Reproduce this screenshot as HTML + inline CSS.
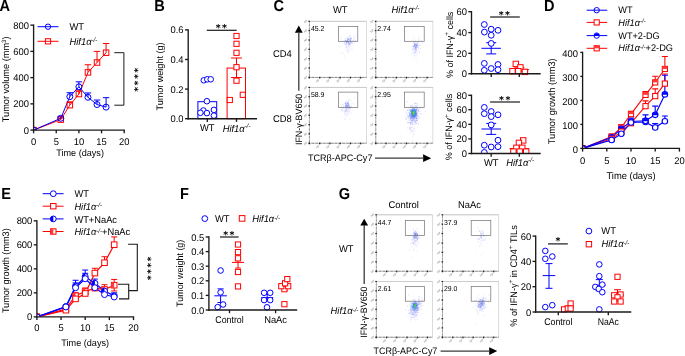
<!DOCTYPE html>
<html><head><meta charset="utf-8"><title>Figure</title>
<style>
html,body{margin:0;padding:0;background:#fff;}
svg{display:block;font-family:"Liberation Sans",sans-serif;will-change:transform;text-rendering:geometricPrecision;}
</style></head><body>
<svg width="685" height="356" viewBox="0 0 685 356">
<rect width="685" height="356" fill="#fff"/>
<text transform="translate(-0.5,10.7) scale(1,1.09)" font-size="14.6" font-weight="bold" fill="#000">A</text>
<text transform="translate(154.3,10.7) scale(1,1.09)" font-size="14.6" font-weight="bold" fill="#000">B</text>
<text transform="translate(273.6,10.7) scale(1,1.09)" font-size="14.6" font-weight="bold" fill="#000">C</text>
<text transform="translate(544.1,10.7) scale(1,1.09)" font-size="14.6" font-weight="bold" fill="#000">D</text>
<text transform="translate(1.3,198.6) scale(1,1.09)" font-size="14.6" font-weight="bold" fill="#000">E</text>
<text transform="translate(180.1,198.6) scale(1,1.09)" font-size="14.6" font-weight="bold" fill="#000">F</text>
<text transform="translate(338.7,198.6) scale(1,1.09)" font-size="14.6" font-weight="bold" fill="#000">G</text>
<text transform="translate(80.1,155.89) scale(1,1.04)" font-size="9.1" text-anchor="middle" fill="#000">Time (days)</text>
<text transform="translate(5.5,79.4) rotate(-90) translate(0,3.43) scale(1,1.04)" font-size="9.2" text-anchor="middle" fill="#000">Tumor volume (mm<tspan font-size="6" dy="-3.3">3</tspan><tspan dy="3.3">)</tspan></text>
<clipPath id="cp1"><rect x="33.6" y="0" width="126.4" height="130.1"/></clipPath><g clip-path="url(#cp1)">
<line x1="60.78" y1="119.6" x2="60.78" y2="118.03" stroke="#ff0000" stroke-width="1"/>
<line x1="57.53" y1="118.03" x2="64.03" y2="118.03" stroke="#ff0000" stroke-width="1"/>
<line x1="69.84" y1="105.17" x2="69.84" y2="101.89" stroke="#ff0000" stroke-width="1"/>
<line x1="66.59" y1="101.89" x2="73.09" y2="101.89" stroke="#ff0000" stroke-width="1"/>
<line x1="78.9" y1="94.02" x2="78.9" y2="90.08" stroke="#ff0000" stroke-width="1"/>
<line x1="75.65" y1="90.08" x2="82.15" y2="90.08" stroke="#ff0000" stroke-width="1"/>
<line x1="87.96" y1="72.37" x2="87.96" y2="64.76" stroke="#ff0000" stroke-width="1"/>
<line x1="84.71" y1="64.76" x2="91.21" y2="64.76" stroke="#ff0000" stroke-width="1"/>
<line x1="97.02" y1="62.53" x2="97.02" y2="51.38" stroke="#ff0000" stroke-width="1"/>
<line x1="93.77" y1="51.38" x2="100.27" y2="51.38" stroke="#ff0000" stroke-width="1"/>
<line x1="106.08" y1="52.69" x2="106.08" y2="43.51" stroke="#ff0000" stroke-width="1"/>
<line x1="102.83" y1="43.51" x2="109.33" y2="43.51" stroke="#ff0000" stroke-width="1"/>
<line x1="60.78" y1="118.29" x2="60.78" y2="116.32" stroke="#0000ff" stroke-width="1"/>
<line x1="57.53" y1="116.32" x2="64.03" y2="116.32" stroke="#0000ff" stroke-width="1"/>
<line x1="69.84" y1="96.64" x2="69.84" y2="92.71" stroke="#0000ff" stroke-width="1"/>
<line x1="66.59" y1="92.71" x2="73.09" y2="92.71" stroke="#0000ff" stroke-width="1"/>
<line x1="78.9" y1="86.8" x2="78.9" y2="81.82" stroke="#0000ff" stroke-width="1"/>
<line x1="75.65" y1="81.82" x2="82.15" y2="81.82" stroke="#0000ff" stroke-width="1"/>
<line x1="87.96" y1="97.3" x2="87.96" y2="92.97" stroke="#0000ff" stroke-width="1"/>
<line x1="84.71" y1="92.97" x2="91.21" y2="92.97" stroke="#0000ff" stroke-width="1"/>
<line x1="97.02" y1="104.52" x2="97.02" y2="100.06" stroke="#0000ff" stroke-width="1"/>
<line x1="93.77" y1="100.06" x2="100.27" y2="100.06" stroke="#0000ff" stroke-width="1"/>
<line x1="106.08" y1="107.14" x2="106.08" y2="97.69" stroke="#0000ff" stroke-width="1"/>
<line x1="102.83" y1="97.69" x2="109.33" y2="97.69" stroke="#0000ff" stroke-width="1"/>
<polyline points="33.6,130.1 60.78,119.6 69.84,105.17 78.9,94.02 87.96,72.37 97.02,62.53 106.08,52.69" fill="none" stroke="#ff0000" stroke-width="1"/>
<polyline points="33.6,130.1 60.78,118.29 69.84,96.64 78.9,86.8 87.96,97.3 97.02,104.52 106.08,107.14" fill="none" stroke="#0000ff" stroke-width="1"/>
<rect x="30.85" y="127.35" width="5.5" height="5.5" fill="none" stroke="#ff0000" stroke-width="1"/>
<rect x="58.03" y="116.85" width="5.5" height="5.5" fill="none" stroke="#ff0000" stroke-width="1"/>
<rect x="67.09" y="102.42" width="5.5" height="5.5" fill="none" stroke="#ff0000" stroke-width="1"/>
<rect x="76.15" y="91.27" width="5.5" height="5.5" fill="none" stroke="#ff0000" stroke-width="1"/>
<rect x="85.21" y="69.62" width="5.5" height="5.5" fill="none" stroke="#ff0000" stroke-width="1"/>
<rect x="94.27" y="59.78" width="5.5" height="5.5" fill="none" stroke="#ff0000" stroke-width="1"/>
<rect x="103.33" y="49.94" width="5.5" height="5.5" fill="none" stroke="#ff0000" stroke-width="1"/>
<circle cx="33.6" cy="130.1" r="3" fill="none" stroke="#0000ff" stroke-width="1"/>
<circle cx="60.78" cy="118.29" r="3" fill="none" stroke="#0000ff" stroke-width="1"/>
<circle cx="69.84" cy="96.64" r="3" fill="none" stroke="#0000ff" stroke-width="1"/>
<circle cx="78.9" cy="86.8" r="3" fill="none" stroke="#0000ff" stroke-width="1"/>
<circle cx="87.96" cy="97.3" r="3" fill="none" stroke="#0000ff" stroke-width="1"/>
<circle cx="97.02" cy="104.52" r="3" fill="none" stroke="#0000ff" stroke-width="1"/>
<circle cx="106.08" cy="107.14" r="3" fill="none" stroke="#0000ff" stroke-width="1"/>
</g>
<line x1="37.5" y1="26.7" x2="58.5" y2="26.7" stroke="#0000ff" stroke-width="1"/>
<circle cx="48" cy="26.7" r="2.7" fill="none" stroke="#0000ff" stroke-width="1"/>
<line x1="37.5" y1="41.3" x2="58.5" y2="41.3" stroke="#ff0000" stroke-width="1"/>
<rect x="45.4" y="38.7" width="5.2" height="5.2" fill="none" stroke="#ff0000" stroke-width="1"/>
<text transform="translate(69.5,29.8) scale(1,1.04)" font-size="9.4" fill="#000">WT</text>
<text transform="translate(69.5,44.8) scale(1,1.04)" font-size="9.4" fill="#000"><tspan font-style="italic">Hif1α</tspan><tspan font-style="italic" font-size="6.2" dy="-2.35">-/-</tspan></text>
<polyline points="114.3,52.7 123.9,52.7 123.9,105.2 114.3,105.2" fill="none" stroke="#1a1a1a" stroke-width="1"/>
<text transform="translate(137.43,79.1) rotate(-90) translate(0,3.37)" font-size="9.4" text-anchor="middle" fill="#000" letter-spacing="1.4" font-weight="bold" font-family="DejaVu Sans, sans-serif">****</text>
<line x1="33.6" y1="24.46" x2="33.6" y2="130.78" stroke="#1a1a1a" stroke-width="1.35"/>
<line x1="30.4" y1="130.1" x2="33.6" y2="130.1" stroke="#1a1a1a" stroke-width="1.35"/>
<text transform="translate(29,133.6) scale(1,1.04)" font-size="9.4" text-anchor="end" fill="#000">0</text>
<line x1="30.4" y1="103.86" x2="33.6" y2="103.86" stroke="#1a1a1a" stroke-width="1.35"/>
<text transform="translate(29,107.36) scale(1,1.04)" font-size="9.4" text-anchor="end" fill="#000">200</text>
<line x1="30.4" y1="77.62" x2="33.6" y2="77.62" stroke="#1a1a1a" stroke-width="1.35"/>
<text transform="translate(29,81.12) scale(1,1.04)" font-size="9.4" text-anchor="end" fill="#000">400</text>
<line x1="30.4" y1="51.38" x2="33.6" y2="51.38" stroke="#1a1a1a" stroke-width="1.35"/>
<text transform="translate(29,54.88) scale(1,1.04)" font-size="9.4" text-anchor="end" fill="#000">600</text>
<line x1="30.4" y1="25.14" x2="33.6" y2="25.14" stroke="#1a1a1a" stroke-width="1.35"/>
<text transform="translate(29,28.64) scale(1,1.04)" font-size="9.4" text-anchor="end" fill="#000">800</text>
<line x1="32.93" y1="130.1" x2="124.88" y2="130.1" stroke="#1a1a1a" stroke-width="1.35"/>
<line x1="33.6" y1="130.1" x2="33.6" y2="133.3" stroke="#1a1a1a" stroke-width="1.35"/>
<text transform="translate(33.6,144.7) scale(1,1.04)" font-size="9.4" text-anchor="middle" fill="#000">0</text>
<line x1="56.25" y1="130.1" x2="56.25" y2="133.3" stroke="#1a1a1a" stroke-width="1.35"/>
<text transform="translate(56.25,144.7) scale(1,1.04)" font-size="9.4" text-anchor="middle" fill="#000">5</text>
<line x1="78.9" y1="130.1" x2="78.9" y2="133.3" stroke="#1a1a1a" stroke-width="1.35"/>
<text transform="translate(78.9,144.7) scale(1,1.04)" font-size="9.4" text-anchor="middle" fill="#000">10</text>
<line x1="101.55" y1="130.1" x2="101.55" y2="133.3" stroke="#1a1a1a" stroke-width="1.35"/>
<text transform="translate(101.55,144.7) scale(1,1.04)" font-size="9.4" text-anchor="middle" fill="#000">15</text>
<line x1="124.2" y1="130.1" x2="124.2" y2="133.3" stroke="#1a1a1a" stroke-width="1.35"/>
<text transform="translate(124.2,144.7) scale(1,1.04)" font-size="9.4" text-anchor="middle" fill="#000">20</text>
<text transform="translate(207.3,131.4) scale(1,1.04)" font-size="9.4" text-anchor="middle" fill="#000">WT</text>
<text transform="translate(236.6,131.7) scale(1,1.04)" font-size="9.4" text-anchor="middle" fill="#000"><tspan font-style="italic">Hif1α</tspan><tspan font-style="italic" font-size="6.2" dy="-3.57">-/-</tspan></text>
<text transform="translate(160.1,76.5) rotate(-90) translate(0,3.37) scale(1,1.04)" font-size="9.05" text-anchor="middle" fill="#000">Tumor weight (g)</text>
<rect x="197.9" y="101.68" width="18.8" height="17.02" fill="none" stroke="#0000ff" stroke-width="1"/>
<rect x="227.1" y="68.08" width="18.4" height="50.62" fill="none" stroke="#ff0000" stroke-width="1"/>
<line x1="236.5" y1="77.5" x2="236.5" y2="58" stroke="#ff0000" stroke-width="1"/>
<line x1="231.1" y1="58" x2="241.9" y2="58" stroke="#ff0000" stroke-width="1"/>
<line x1="231.1" y1="77.5" x2="241.9" y2="77.5" stroke="#ff0000" stroke-width="1"/>
<circle cx="203.8" cy="80.3" r="2.8" fill="#fff" stroke="#0000ff" stroke-width="1"/>
<circle cx="207.3" cy="79.3" r="2.8" fill="#fff" stroke="#0000ff" stroke-width="1"/>
<circle cx="210.7" cy="79.3" r="2.8" fill="#fff" stroke="#0000ff" stroke-width="1"/>
<circle cx="206.9" cy="101.2" r="2.8" fill="#fff" stroke="#0000ff" stroke-width="1"/>
<circle cx="203.4" cy="110.5" r="2.8" fill="#fff" stroke="#0000ff" stroke-width="1"/>
<circle cx="200.4" cy="112.8" r="2.8" fill="#fff" stroke="#0000ff" stroke-width="1"/>
<circle cx="206.9" cy="113.1" r="2.8" fill="#fff" stroke="#0000ff" stroke-width="1"/>
<circle cx="213.9" cy="109.9" r="2.8" fill="#fff" stroke="#0000ff" stroke-width="1"/>
<circle cx="213.9" cy="115.6" r="2.8" fill="#fff" stroke="#0000ff" stroke-width="1"/>
<rect x="233.9" y="33.4" width="5.2" height="5.2" fill="#fff" stroke="#ff0000" stroke-width="1"/>
<rect x="233.9" y="41.2" width="5.2" height="5.2" fill="#fff" stroke="#ff0000" stroke-width="1"/>
<rect x="233.9" y="50.2" width="5.2" height="5.2" fill="#fff" stroke="#ff0000" stroke-width="1"/>
<rect x="233.9" y="64.6" width="5.2" height="5.2" fill="#fff" stroke="#ff0000" stroke-width="1"/>
<rect x="233.9" y="78.1" width="5.2" height="5.2" fill="#fff" stroke="#ff0000" stroke-width="1"/>
<rect x="240.2" y="92.2" width="5.2" height="5.2" fill="#fff" stroke="#ff0000" stroke-width="1"/>
<rect x="227.2" y="97.4" width="5.2" height="5.2" fill="#fff" stroke="#ff0000" stroke-width="1"/>
<line x1="206.8" y1="30.3" x2="236.7" y2="30.3" stroke="#1a1a1a" stroke-width="1.2"/>
<text transform="translate(222,30.8)" font-size="9.4" text-anchor="middle" fill="#000" letter-spacing="1.4" font-weight="bold" font-family="DejaVu Sans, sans-serif">**</text>
<line x1="188.2" y1="29.23" x2="188.2" y2="119.38" stroke="#1a1a1a" stroke-width="1.35"/>
<line x1="185" y1="118.7" x2="188.2" y2="118.7" stroke="#1a1a1a" stroke-width="1.35"/>
<text transform="translate(183.6,122.2) scale(1,1.04)" font-size="9.4" text-anchor="end" fill="#000">0.0</text>
<line x1="185" y1="89.1" x2="188.2" y2="89.1" stroke="#1a1a1a" stroke-width="1.35"/>
<text transform="translate(183.6,92.6) scale(1,1.04)" font-size="9.4" text-anchor="end" fill="#000">0.2</text>
<line x1="185" y1="59.5" x2="188.2" y2="59.5" stroke="#1a1a1a" stroke-width="1.35"/>
<text transform="translate(183.6,63) scale(1,1.04)" font-size="9.4" text-anchor="end" fill="#000">0.4</text>
<line x1="185" y1="29.9" x2="188.2" y2="29.9" stroke="#1a1a1a" stroke-width="1.35"/>
<text transform="translate(183.6,33.4) scale(1,1.04)" font-size="9.4" text-anchor="end" fill="#000">0.6</text>
<line x1="187.52" y1="118.7" x2="256.98" y2="118.7" stroke="#1a1a1a" stroke-width="1.35"/>
<line x1="207.3" y1="118.7" x2="207.3" y2="121.9" stroke="#1a1a1a" stroke-width="1.35"/>
<line x1="236.5" y1="118.7" x2="236.5" y2="121.9" stroke="#1a1a1a" stroke-width="1.35"/>
<rect x="309.4" y="21.3" width="57.1" height="56.1" fill="#fff" stroke="#cdcdcd" stroke-width="0.7"/>
<line x1="309.4" y1="21.3" x2="366.5" y2="21.3" stroke="#c4c4c4" stroke-width="0.7"/>
<line x1="309.4" y1="21.3" x2="309.4" y2="77.4" stroke="#4a4a4a" stroke-width="0.85" stroke-dasharray="0.55 0.8"/>
<line x1="309.4" y1="77.4" x2="366.5" y2="77.4" stroke="#3c3c3c" stroke-width="1" stroke-dasharray="0.55 0.8"/>
<rect x="308.4" y="20.7" width="1.6" height="1.2" fill="#222"/>
<text transform="translate(304.4,23.3) rotate(-32)" font-size="2.5" fill="#5a5a5a">10<tspan font-size="1.8" dy="-0.9">6</tspan></text>
<rect x="308.4" y="30.05" width="1.6" height="1.2" fill="#222"/>
<text transform="translate(304.4,32.65) rotate(-32)" font-size="2.5" fill="#5a5a5a">10<tspan font-size="1.8" dy="-0.9">5</tspan></text>
<rect x="308.4" y="39.4" width="1.6" height="1.2" fill="#222"/>
<text transform="translate(304.4,42) rotate(-32)" font-size="2.5" fill="#5a5a5a">10<tspan font-size="1.8" dy="-0.9">4</tspan></text>
<rect x="308.4" y="48.75" width="1.6" height="1.2" fill="#222"/>
<text transform="translate(304.4,51.35) rotate(-32)" font-size="2.5" fill="#5a5a5a">10<tspan font-size="1.8" dy="-0.9">3</tspan></text>
<rect x="308.4" y="58.1" width="1.6" height="1.2" fill="#222"/>
<text transform="translate(304.4,60.7) rotate(-32)" font-size="2.5" fill="#5a5a5a">10<tspan font-size="1.8" dy="-0.9">2</tspan></text>
<rect x="308.4" y="67.45" width="1.6" height="1.2" fill="#222"/>
<text transform="translate(304.4,70.05) rotate(-32)" font-size="2.5" fill="#5a5a5a">10<tspan font-size="1.8" dy="-0.9">1</tspan></text>
<rect x="308.4" y="76.8" width="1.6" height="1.2" fill="#222"/>
<text transform="translate(304.4,79.4) rotate(-32)" font-size="2.5" fill="#5a5a5a">10<tspan font-size="1.8" dy="-0.9">0</tspan></text>
<rect x="308.8" y="76.8" width="1.2" height="1.7" fill="#222"/>
<rect x="319.05" y="76.8" width="1.2" height="1.7" fill="#222"/>
<text transform="translate(316.45,82.6) rotate(-32)" font-size="2.5" fill="#5a5a5a">10<tspan font-size="1.8" dy="-0.9">1</tspan></text>
<rect x="329.3" y="76.8" width="1.2" height="1.7" fill="#222"/>
<text transform="translate(326.7,82.6) rotate(-32)" font-size="2.5" fill="#5a5a5a">10<tspan font-size="1.8" dy="-0.9">2</tspan></text>
<rect x="339.55" y="76.8" width="1.2" height="1.7" fill="#222"/>
<text transform="translate(336.95,82.6) rotate(-32)" font-size="2.5" fill="#5a5a5a">10<tspan font-size="1.8" dy="-0.9">3</tspan></text>
<rect x="349.8" y="76.8" width="1.2" height="1.7" fill="#222"/>
<text transform="translate(347.2,82.6) rotate(-32)" font-size="2.5" fill="#5a5a5a">10<tspan font-size="1.8" dy="-0.9">4</tspan></text>
<rect x="360.05" y="76.8" width="1.2" height="1.7" fill="#222"/>
<text transform="translate(357.45,82.6) rotate(-32)" font-size="2.5" fill="#5a5a5a">10<tspan font-size="1.8" dy="-0.9">5</tspan></text>
<path d="M350.38 46.86h.7M346.65 47.38h.7M347.67 43.3h.7M342.04 52.13h.7M345.82 44.83h.7M348.96 45.54h.7M348.09 45.52h.7M349 50.72h.7M347.75 43.34h.7M349.65 48.57h.7M347.85 45.26h.7M348.35 51.53h.7M350.52 41.67h.7M349.38 43.61h.7M347.24 49.87h.7M347.2 48.08h.7M349.6 44.56h.7M347.48 45.15h.7M348.25 42.51h.7M349.55 44.99h.7M339.76 53.04h.7M349.31 44.27h.7M348.79 44.11h.7M352.43 43.5h.7M349.81 42.47h.7M351.15 44.05h.7M351.62 49.46h.7M351.35 42.07h.7M348.24 44.47h.7M346.68 52.76h.7M347.42 51.47h.7M349.3 46.45h.7M348.92 41.72h.7M343.88 43.52h.7M341.81 53.69h.7M346.4 47.59h.7M348.41 48.41h.7M349.87 43.41h.7M348.63 41.75h.7M351.69 49.85h.7M345.04 44.07h.7M345.51 49.78h.7M345.17 46.05h.7M344.31 55.06h.7M349.62 46.83h.7M348.56 44.44h.7M349.89 43.19h.7M345.69 41.89h.7M348.37 41.58h.7M348.66 50.84h.7M348.69 42.94h.7M350.07 41.83h.7M344.27 57.84h.7M347.98 41.76h.7M347.82 42.2h.7M348.69 46.91h.7M347.59 46.84h.7M345.46 48.16h.7" stroke="#a9aef7" stroke-width="0.7" stroke-opacity="0.5" fill="none"/>
<path d="M349.34 41.47h.7M349.06 39.14h.7M339.43 46.82h.7M344.45 44.1h.7M344.98 41.69h.7M340.89 39.63h.7M344.75 38.87h.7M354.72 40.51h.7M353.49 36.3h.7M355.49 34.71h.7M340.29 37.15h.7M346.52 41.81h.7M349.18 41.32h.7M346.46 40.96h.7M352.26 41.55h.7M347.38 41.5h.7M348.17 43.37h.7M348.36 41.25h.7M351.36 38.65h.7M351.8 41.26h.7M345.53 44.71h.7M348.57 39.12h.7M347.68 43.73h.7M343.71 40.65h.7M353.45 38.77h.7M354.75 38.37h.7M354.84 40.36h.7M351.17 41.17h.7M346.7 40.7h.7M354.08 37.24h.7M347.7 39.3h.7M349.09 43.82h.7M349.65 40.11h.7M347.19 41.8h.7M349.75 44.11h.7M347.19 50.25h.7M343.72 41.48h.7M354.35 42.68h.7" stroke="#9098f5" stroke-width="0.7" stroke-opacity="0.5" fill="none"/>
<path d="M348.77 43.29h.7M346.41 41.59h.7M347.72 39.32h.7M346.05 46.46h.7M348.55 38.1h.7M346.49 43.75h.7M350.14 40h.7M350.63 42h.7M349.7 41.9h.7M347.39 42.92h.7M345.38 40.52h.7M351.7 42.28h.7M350.74 38.16h.7M347.27 40.03h.7M348.17 41.18h.7M346.96 40.59h.7M350.23 38.37h.7M344.82 40.06h.7M350.45 37.79h.7M348.09 39.31h.7M350.09 40.19h.7M352.81 40.41h.7M349.42 38.8h.7M348.35 39.97h.7M351.06 38.85h.7M346.79 40.98h.7M345.9 44.05h.7M346.3 42.08h.7M347.97 39.55h.7M349.81 43.89h.7M347.21 39.19h.7M346.86 38.75h.7M344.24 42.5h.7M348.17 42.34h.7M346.49 42.63h.7M345.64 40.77h.7M345.55 40.67h.7M349.91 39.62h.7M345.64 41.56h.7M349.46 40.23h.7M349.39 36.47h.7M350.38 41.12h.7M349.87 35.41h.7M347.74 41.89h.7M351.02 42.86h.7M346.87 40.37h.7M345.84 41.81h.7M346.03 42.34h.7M349.77 40.59h.7M347.61 37.95h.7M350.24 38.55h.7M346.66 38.04h.7M346.55 41.98h.7M349.5 43.49h.7" stroke="#5a68f2" stroke-width="0.7" stroke-opacity="0.5" fill="none"/>
<rect x="338.4" y="26.4" width="19.4" height="14.9" fill="none" stroke="#707070" stroke-width="0.7"/>
<text transform="translate(310.9,31.17) scale(1,1.04)" font-size="6.9" fill="#000">45.2</text>
<rect x="375.8" y="21.3" width="57.1" height="56.1" fill="#fff" stroke="#cdcdcd" stroke-width="0.7"/>
<line x1="375.8" y1="21.3" x2="432.9" y2="21.3" stroke="#c4c4c4" stroke-width="0.7"/>
<line x1="375.8" y1="21.3" x2="375.8" y2="77.4" stroke="#4a4a4a" stroke-width="0.85" stroke-dasharray="0.55 0.8"/>
<line x1="375.8" y1="77.4" x2="432.9" y2="77.4" stroke="#3c3c3c" stroke-width="1" stroke-dasharray="0.55 0.8"/>
<rect x="374.8" y="20.7" width="1.6" height="1.2" fill="#222"/>
<text transform="translate(370.8,23.3) rotate(-32)" font-size="2.5" fill="#5a5a5a">10<tspan font-size="1.8" dy="-0.9">6</tspan></text>
<rect x="374.8" y="30.05" width="1.6" height="1.2" fill="#222"/>
<text transform="translate(370.8,32.65) rotate(-32)" font-size="2.5" fill="#5a5a5a">10<tspan font-size="1.8" dy="-0.9">5</tspan></text>
<rect x="374.8" y="39.4" width="1.6" height="1.2" fill="#222"/>
<text transform="translate(370.8,42) rotate(-32)" font-size="2.5" fill="#5a5a5a">10<tspan font-size="1.8" dy="-0.9">4</tspan></text>
<rect x="374.8" y="48.75" width="1.6" height="1.2" fill="#222"/>
<text transform="translate(370.8,51.35) rotate(-32)" font-size="2.5" fill="#5a5a5a">10<tspan font-size="1.8" dy="-0.9">3</tspan></text>
<rect x="374.8" y="58.1" width="1.6" height="1.2" fill="#222"/>
<text transform="translate(370.8,60.7) rotate(-32)" font-size="2.5" fill="#5a5a5a">10<tspan font-size="1.8" dy="-0.9">2</tspan></text>
<rect x="374.8" y="67.45" width="1.6" height="1.2" fill="#222"/>
<text transform="translate(370.8,70.05) rotate(-32)" font-size="2.5" fill="#5a5a5a">10<tspan font-size="1.8" dy="-0.9">1</tspan></text>
<rect x="374.8" y="76.8" width="1.6" height="1.2" fill="#222"/>
<text transform="translate(370.8,79.4) rotate(-32)" font-size="2.5" fill="#5a5a5a">10<tspan font-size="1.8" dy="-0.9">0</tspan></text>
<rect x="375.2" y="76.8" width="1.2" height="1.7" fill="#222"/>
<rect x="385.45" y="76.8" width="1.2" height="1.7" fill="#222"/>
<text transform="translate(382.85,82.6) rotate(-32)" font-size="2.5" fill="#5a5a5a">10<tspan font-size="1.8" dy="-0.9">1</tspan></text>
<rect x="395.7" y="76.8" width="1.2" height="1.7" fill="#222"/>
<text transform="translate(393.1,82.6) rotate(-32)" font-size="2.5" fill="#5a5a5a">10<tspan font-size="1.8" dy="-0.9">2</tspan></text>
<rect x="405.95" y="76.8" width="1.2" height="1.7" fill="#222"/>
<text transform="translate(403.35,82.6) rotate(-32)" font-size="2.5" fill="#5a5a5a">10<tspan font-size="1.8" dy="-0.9">3</tspan></text>
<rect x="416.2" y="76.8" width="1.2" height="1.7" fill="#222"/>
<text transform="translate(413.6,82.6) rotate(-32)" font-size="2.5" fill="#5a5a5a">10<tspan font-size="1.8" dy="-0.9">4</tspan></text>
<rect x="426.45" y="76.8" width="1.2" height="1.7" fill="#222"/>
<text transform="translate(423.85,82.6) rotate(-32)" font-size="2.5" fill="#5a5a5a">10<tspan font-size="1.8" dy="-0.9">5</tspan></text>
<path d="M413.96 43.07h.7M416.19 47.45h.7M412.94 43.28h.7M415.11 44.09h.7M413.52 45.45h.7M417.29 46.87h.7M415.56 48.78h.7M413.88 45.58h.7M414.95 43.96h.7M415.57 45.35h.7M415.45 48.16h.7M415.17 44.06h.7M414.97 45.54h.7M415.79 44.61h.7M415.11 41.14h.7M414.27 44.45h.7M415.11 47.13h.7M417.57 42.97h.7M412.88 46.56h.7M416.23 47.19h.7M414.8 48.53h.7M414.28 45.53h.7M416.88 45.45h.7M413.9 46.62h.7M415.35 47.12h.7M417.41 42.06h.7M413.36 45.96h.7M418.2 41.11h.7M414.17 42.67h.7M415.1 50.15h.7M414.23 45.74h.7M414.23 46.27h.7M416.3 44.82h.7M415.7 49.02h.7M414.33 45.46h.7M413.86 49.07h.7M416.11 45.13h.7M418.64 45.43h.7M417.31 46.11h.7M415.43 47.38h.7M416.21 43.51h.7M415.56 47.35h.7M416.71 45.9h.7M415.41 44.9h.7M417.24 44.02h.7M416.31 45.73h.7M415.57 41.64h.7M414.44 44.34h.7M416.44 45.38h.7M414.25 46h.7M416.82 42.98h.7M415.97 45.45h.7M416.41 45.94h.7M414.18 46.01h.7M415.98 45.17h.7M415.6 47.15h.7" stroke="#5a68f2" stroke-width="0.7" stroke-opacity="0.5" fill="none"/>
<path d="M418.46 39.84h.7M412.91 41.58h.7M420.11 45.64h.7M414.12 39.82h.7M414.76 44.36h.7M412.24 46.4h.7M419.35 36.85h.7M414.79 47.98h.7M415.03 46.63h.7M415.87 48.77h.7M421.33 41.02h.7M415.27 44.36h.7M414.97 46.62h.7M413.27 47.81h.7M413.58 37.61h.7M414.61 45.17h.7M414.62 47.3h.7M413.63 47.17h.7M417.56 45.7h.7M419.22 44.16h.7M415.83 55.08h.7M420.33 40.99h.7M413.32 47.83h.7M416.7 44.98h.7M414.28 51.26h.7M422.04 43.08h.7M414.82 49.36h.7M416.97 44.49h.7M410.75 54.56h.7M412.81 41.76h.7M411.7 49.77h.7M415.08 52.07h.7M418.24 39.17h.7M417.84 44.01h.7M414.13 43.75h.7M416.22 47.41h.7M414.69 44.28h.7" stroke="#9098f5" stroke-width="0.7" stroke-opacity="0.5" fill="none"/>
<path d="M416.12 50.24h.7M412.54 50.38h.7M415.38 50.66h.7M418.44 46.53h.7M414.97 47.18h.7M418.01 47.38h.7M414 49.55h.7M412.64 61.52h.7M412.69 49.46h.7M414.5 53.1h.7M416.18 49.91h.7M415.08 46.48h.7M416.11 50.61h.7M413.5 48.88h.7M417.94 49.3h.7M413.81 52.13h.7M416.09 48.53h.7M415.9 47.24h.7M415.53 50.16h.7M412.04 58.09h.7M419.98 49.09h.7M414.09 55.07h.7M415.82 51.76h.7M414.68 55.89h.7M416.73 57.36h.7M415.6 49.08h.7M412.13 52.61h.7M415.41 53.16h.7M413.32 55.73h.7M414.65 53.54h.7M416.56 49.71h.7M418.27 48.16h.7M413.68 53.25h.7M417.1 47.36h.7M415.18 48.36h.7M418.78 52.05h.7M414.63 51.34h.7M414.81 52.22h.7M415.36 59.24h.7M410.94 46.51h.7M419.87 48.47h.7M415.37 46.37h.7M417 53.32h.7M417.93 49.67h.7M415.23 47.78h.7M415.81 52.31h.7M413.48 49.09h.7M416.68 46.36h.7M412.74 52.4h.7M417.11 61.77h.7M419.4 52.49h.7M412.64 53.63h.7M414.67 51.82h.7M412.55 48.49h.7M415.78 51.31h.7M413.03 48.44h.7M419.13 51.75h.7" stroke="#a9aef7" stroke-width="0.7" stroke-opacity="0.5" fill="none"/>
<rect x="404.4" y="26.4" width="19.8" height="14.9" fill="none" stroke="#707070" stroke-width="0.7"/>
<text transform="translate(377.3,31.17) scale(1,1.04)" font-size="6.9" fill="#000">2.74</text>
<rect x="309.4" y="87.4" width="57.1" height="55.8" fill="#fff" stroke="#cdcdcd" stroke-width="0.7"/>
<line x1="309.4" y1="87.4" x2="366.5" y2="87.4" stroke="#c4c4c4" stroke-width="0.7"/>
<line x1="309.4" y1="87.4" x2="309.4" y2="143.2" stroke="#4a4a4a" stroke-width="0.85" stroke-dasharray="0.55 0.8"/>
<line x1="309.4" y1="143.2" x2="366.5" y2="143.2" stroke="#3c3c3c" stroke-width="1" stroke-dasharray="0.55 0.8"/>
<rect x="308.4" y="86.8" width="1.6" height="1.2" fill="#222"/>
<text transform="translate(304.4,89.4) rotate(-32)" font-size="2.5" fill="#5a5a5a">10<tspan font-size="1.8" dy="-0.9">6</tspan></text>
<rect x="308.4" y="96.1" width="1.6" height="1.2" fill="#222"/>
<text transform="translate(304.4,98.7) rotate(-32)" font-size="2.5" fill="#5a5a5a">10<tspan font-size="1.8" dy="-0.9">5</tspan></text>
<rect x="308.4" y="105.4" width="1.6" height="1.2" fill="#222"/>
<text transform="translate(304.4,108) rotate(-32)" font-size="2.5" fill="#5a5a5a">10<tspan font-size="1.8" dy="-0.9">4</tspan></text>
<rect x="308.4" y="114.7" width="1.6" height="1.2" fill="#222"/>
<text transform="translate(304.4,117.3) rotate(-32)" font-size="2.5" fill="#5a5a5a">10<tspan font-size="1.8" dy="-0.9">3</tspan></text>
<rect x="308.4" y="124" width="1.6" height="1.2" fill="#222"/>
<text transform="translate(304.4,126.6) rotate(-32)" font-size="2.5" fill="#5a5a5a">10<tspan font-size="1.8" dy="-0.9">2</tspan></text>
<rect x="308.4" y="133.3" width="1.6" height="1.2" fill="#222"/>
<text transform="translate(304.4,135.9) rotate(-32)" font-size="2.5" fill="#5a5a5a">10<tspan font-size="1.8" dy="-0.9">1</tspan></text>
<rect x="308.4" y="142.6" width="1.6" height="1.2" fill="#222"/>
<text transform="translate(304.4,145.2) rotate(-32)" font-size="2.5" fill="#5a5a5a">10<tspan font-size="1.8" dy="-0.9">0</tspan></text>
<rect x="308.8" y="142.6" width="1.2" height="1.7" fill="#222"/>
<rect x="319.05" y="142.6" width="1.2" height="1.7" fill="#222"/>
<text transform="translate(316.45,148.4) rotate(-32)" font-size="2.5" fill="#5a5a5a">10<tspan font-size="1.8" dy="-0.9">1</tspan></text>
<rect x="329.3" y="142.6" width="1.2" height="1.7" fill="#222"/>
<text transform="translate(326.7,148.4) rotate(-32)" font-size="2.5" fill="#5a5a5a">10<tspan font-size="1.8" dy="-0.9">2</tspan></text>
<rect x="339.55" y="142.6" width="1.2" height="1.7" fill="#222"/>
<text transform="translate(336.95,148.4) rotate(-32)" font-size="2.5" fill="#5a5a5a">10<tspan font-size="1.8" dy="-0.9">3</tspan></text>
<rect x="349.8" y="142.6" width="1.2" height="1.7" fill="#222"/>
<text transform="translate(347.2,148.4) rotate(-32)" font-size="2.5" fill="#5a5a5a">10<tspan font-size="1.8" dy="-0.9">4</tspan></text>
<rect x="360.05" y="142.6" width="1.2" height="1.7" fill="#222"/>
<text transform="translate(357.45,148.4) rotate(-32)" font-size="2.5" fill="#5a5a5a">10<tspan font-size="1.8" dy="-0.9">5</tspan></text>
<path d="M345.18 111.47h.7M345.3 118.92h.7M344.67 114.33h.7M344.39 119.53h.7M345.6 116.91h.7M345.03 111.62h.7M344.98 107.43h.7M348.65 107.68h.7M341.75 108.45h.7M344.12 115.48h.7M345.5 108.04h.7M347.21 113.19h.7M342.7 107.55h.7M341.3 109.7h.7M348.9 112.25h.7M345.1 110.2h.7M350.14 113.68h.7M345.5 114.63h.7M340.48 117.14h.7M346.49 109.72h.7M344.34 113.17h.7M344.3 111.17h.7M345.5 110.49h.7M347.58 113.29h.7M345.85 114.79h.7M346.07 107.94h.7M346.25 106.68h.7M344.33 111.85h.7M347.21 107.08h.7M342.96 111.85h.7M347.2 109.82h.7M349.17 111.43h.7M345.13 112.34h.7M341.26 107.05h.7M351.3 107.37h.7M345.8 108.18h.7M345.17 111.3h.7M346.53 108.17h.7M346.85 107.68h.7M347.8 114.44h.7M348.4 109.07h.7M348.38 106.72h.7M346.16 110.39h.7M346.04 111.84h.7M349.71 108.48h.7M343.06 108.62h.7M346.17 107.51h.7M351.21 107.55h.7M346.45 113.4h.7M347.56 108.07h.7M346.93 115.72h.7M342.17 109.74h.7M347.7 108.94h.7M346.03 109.9h.7M351.46 112.35h.7M349.33 118.88h.7M345.6 108.29h.7M346.85 107.68h.7M344.69 111.18h.7M341.9 108.58h.7M345.68 108.33h.7" stroke="#a9aef7" stroke-width="0.7" stroke-opacity="0.5" fill="none"/>
<path d="M354.38 97.26h.7M347.66 110.93h.7M348.38 102.7h.7M345.02 105.75h.7M350.53 100.61h.7M345.42 106.95h.7M342.87 104.34h.7M345.3 102.73h.7M350.74 106.48h.7M346.49 111.48h.7M347.8 106.9h.7M349.18 107.78h.7M350.68 107.01h.7M349.89 107.13h.7M348.31 105.25h.7M353.37 103.79h.7M346.25 106.64h.7M342.19 111.07h.7M341.66 102.45h.7M347.7 103.28h.7M345.66 103.31h.7M343.22 107.46h.7M348.68 107.76h.7M343.68 109.71h.7M351.46 103.7h.7M344.7 107.18h.7M348.33 105.12h.7M347.65 103.88h.7M346.97 102.12h.7M348.81 105.29h.7M345.7 101.15h.7M349.67 100.13h.7M349.66 106.47h.7M347.47 102.73h.7M341.31 106.12h.7M349.62 108.85h.7M341.2 110.14h.7M341.6 110.6h.7M348.73 108.46h.7M348.47 100.8h.7M344.78 103.03h.7M347.1 102.29h.7M348.28 100.6h.7M346.28 109.33h.7M344.76 103.42h.7M347.54 105.65h.7M348.89 110.77h.7M342.25 104.44h.7" stroke="#9098f5" stroke-width="0.7" stroke-opacity="0.5" fill="none"/>
<path d="M345.74 106.08h.7M348.42 107.22h.7M346.86 106.75h.7M348.56 105.46h.7M344.82 103.34h.7M345.69 106.11h.7M349.31 105.72h.7M347.66 110.9h.7M347.66 107.58h.7M346.85 107.25h.7M347.56 105.09h.7M347.99 107.36h.7M345.46 104.95h.7M345.72 106.22h.7M349.4 106.86h.7M347.35 106.82h.7M346.81 105.82h.7M347.25 103.89h.7M347.58 102.82h.7M348.42 103.3h.7M345.48 105.58h.7M347.92 105.94h.7M344.75 109.3h.7M343.61 106.5h.7M347.97 104.19h.7M345.54 105.1h.7M346.89 106.15h.7M345.32 103.59h.7M348.53 106.83h.7M349.46 107.36h.7M347.45 105.49h.7M347.86 103.28h.7M345.95 104.64h.7M345.6 107.05h.7M343.59 105.71h.7M345.65 105.48h.7M348.96 107.72h.7M346.85 105.78h.7M345.89 110.4h.7M345.81 104.5h.7M347.08 103.03h.7M345.64 103.11h.7M346.63 107.05h.7M349.64 108.74h.7M346.77 103.76h.7M348.25 104.69h.7M346.16 102.23h.7M345.79 104.16h.7M347.68 105.28h.7M347.2 103.92h.7M345.98 105.69h.7" stroke="#5a68f2" stroke-width="0.7" stroke-opacity="0.5" fill="none"/>
<rect x="338.4" y="92.1" width="19.4" height="15.3" fill="none" stroke="#707070" stroke-width="0.7"/>
<text transform="translate(310.9,97.27) scale(1,1.04)" font-size="6.9" fill="#000">58.9</text>
<rect x="375.8" y="87.4" width="57.1" height="55.8" fill="#fff" stroke="#cdcdcd" stroke-width="0.7"/>
<line x1="375.8" y1="87.4" x2="432.9" y2="87.4" stroke="#c4c4c4" stroke-width="0.7"/>
<line x1="375.8" y1="87.4" x2="375.8" y2="143.2" stroke="#4a4a4a" stroke-width="0.85" stroke-dasharray="0.55 0.8"/>
<line x1="375.8" y1="143.2" x2="432.9" y2="143.2" stroke="#3c3c3c" stroke-width="1" stroke-dasharray="0.55 0.8"/>
<rect x="374.8" y="86.8" width="1.6" height="1.2" fill="#222"/>
<text transform="translate(370.8,89.4) rotate(-32)" font-size="2.5" fill="#5a5a5a">10<tspan font-size="1.8" dy="-0.9">6</tspan></text>
<rect x="374.8" y="96.1" width="1.6" height="1.2" fill="#222"/>
<text transform="translate(370.8,98.7) rotate(-32)" font-size="2.5" fill="#5a5a5a">10<tspan font-size="1.8" dy="-0.9">5</tspan></text>
<rect x="374.8" y="105.4" width="1.6" height="1.2" fill="#222"/>
<text transform="translate(370.8,108) rotate(-32)" font-size="2.5" fill="#5a5a5a">10<tspan font-size="1.8" dy="-0.9">4</tspan></text>
<rect x="374.8" y="114.7" width="1.6" height="1.2" fill="#222"/>
<text transform="translate(370.8,117.3) rotate(-32)" font-size="2.5" fill="#5a5a5a">10<tspan font-size="1.8" dy="-0.9">3</tspan></text>
<rect x="374.8" y="124" width="1.6" height="1.2" fill="#222"/>
<text transform="translate(370.8,126.6) rotate(-32)" font-size="2.5" fill="#5a5a5a">10<tspan font-size="1.8" dy="-0.9">2</tspan></text>
<rect x="374.8" y="133.3" width="1.6" height="1.2" fill="#222"/>
<text transform="translate(370.8,135.9) rotate(-32)" font-size="2.5" fill="#5a5a5a">10<tspan font-size="1.8" dy="-0.9">1</tspan></text>
<rect x="374.8" y="142.6" width="1.6" height="1.2" fill="#222"/>
<text transform="translate(370.8,145.2) rotate(-32)" font-size="2.5" fill="#5a5a5a">10<tspan font-size="1.8" dy="-0.9">0</tspan></text>
<rect x="375.2" y="142.6" width="1.2" height="1.7" fill="#222"/>
<rect x="385.45" y="142.6" width="1.2" height="1.7" fill="#222"/>
<text transform="translate(382.85,148.4) rotate(-32)" font-size="2.5" fill="#5a5a5a">10<tspan font-size="1.8" dy="-0.9">1</tspan></text>
<rect x="395.7" y="142.6" width="1.2" height="1.7" fill="#222"/>
<text transform="translate(393.1,148.4) rotate(-32)" font-size="2.5" fill="#5a5a5a">10<tspan font-size="1.8" dy="-0.9">2</tspan></text>
<rect x="405.95" y="142.6" width="1.2" height="1.7" fill="#222"/>
<text transform="translate(403.35,148.4) rotate(-32)" font-size="2.5" fill="#5a5a5a">10<tspan font-size="1.8" dy="-0.9">3</tspan></text>
<rect x="416.2" y="142.6" width="1.2" height="1.7" fill="#222"/>
<text transform="translate(413.6,148.4) rotate(-32)" font-size="2.5" fill="#5a5a5a">10<tspan font-size="1.8" dy="-0.9">4</tspan></text>
<rect x="426.45" y="142.6" width="1.2" height="1.7" fill="#222"/>
<text transform="translate(423.85,148.4) rotate(-32)" font-size="2.5" fill="#5a5a5a">10<tspan font-size="1.8" dy="-0.9">5</tspan></text>
<path d="M410.05 105.93h.7M405.67 118.98h.7M415.52 114.13h.7M416.58 113.21h.7M412.72 108.6h.7M408.9 113.98h.7M416.7 104.84h.7M411.36 118.57h.7M410.69 107.49h.7M419.53 108.75h.7M413.69 112.87h.7M413.63 107.69h.7M409.08 112.87h.7M409.01 110.1h.7M417.51 113.96h.7M408.77 120.84h.7M409.11 113.73h.7M407.73 109.83h.7M411.99 118.4h.7M410.12 106.55h.7M415.71 114.04h.7M410.86 105.77h.7M412.46 106.75h.7M413.58 110.61h.7M416.63 110.27h.7M416.51 116.89h.7M412.89 107.68h.7M410.32 110.48h.7M410.98 107.5h.7M408.17 118.3h.7M419.52 111.53h.7M411.38 117.5h.7M418.59 107.55h.7M408.55 108.26h.7M413.46 116.32h.7M413.66 115.69h.7M409.55 116.1h.7M416.37 116.97h.7M411.04 111.28h.7M416.17 108.97h.7M411.69 114.25h.7M418.16 110.88h.7M411.25 113.7h.7M414.33 112.65h.7M410.17 114.08h.7M424.97 111.85h.7M410.55 112.91h.7M420.29 113.81h.7M415.33 110.1h.7M416.37 117.99h.7M409.21 112.31h.7M421.57 114.41h.7M413 110.68h.7M407.13 117.16h.7M406.14 119.71h.7M411.49 109.44h.7M416.13 114.94h.7M414.95 113.14h.7M416.8 103.59h.7M417.65 109.77h.7M415.9 117.19h.7M411.44 112.23h.7M412.2 116.25h.7M409.23 109.85h.7M410.8 109.31h.7M409.44 117.03h.7M407.85 115.66h.7M411.84 106.92h.7M415.2 105.5h.7M417.55 111.36h.7M415.74 103.35h.7M410.14 116.39h.7M413.21 108.89h.7M410.34 111.2h.7M411.1 113.85h.7M418.84 118.42h.7M405.76 112.98h.7M408.31 112.02h.7M409.82 117.79h.7M418.17 110.5h.7M415.48 115.49h.7M409.49 110.46h.7M406.75 101.61h.7M413.66 115.6h.7M411.07 110.12h.7M414.34 108.84h.7M415.92 106.92h.7M414.07 116.08h.7M414.27 109.37h.7M414.63 113.78h.7M417.16 105.43h.7M415.48 111.96h.7M416.06 118.26h.7M412.52 119.31h.7M410.79 111.8h.7M411.45 117.19h.7M410.18 117.09h.7M411.18 106.59h.7M413.62 114.94h.7M414.18 103.86h.7M418.15 109.7h.7M417.72 115.27h.7M405.75 111.99h.7M417.97 111.5h.7M413 114.47h.7M411.12 114.48h.7M405.47 116.58h.7M409.98 122.22h.7M414.9 103.87h.7M413.64 114.4h.7M415.75 116.28h.7M414.06 118.34h.7M417.94 110.06h.7M414.76 109.73h.7M414.65 112.41h.7M410.8 117.14h.7M411.63 115.36h.7M411.24 118.73h.7M416.94 116.37h.7M410.49 110.4h.7M410.38 110.91h.7M417.46 118.94h.7M412.18 111.77h.7M416.11 115.08h.7M415.9 123.43h.7M413.79 110.25h.7M417.54 113.41h.7M417.23 108.53h.7M413.99 110.6h.7M413.64 113.44h.7M411.1 119.83h.7M416.44 120.45h.7M411.94 104.77h.7M415.75 120.51h.7M416.93 108.12h.7M410.51 115.68h.7M415.23 103.22h.7M411.04 121.11h.7M411.57 109.48h.7M412.12 113.74h.7M411.23 115.43h.7M410.86 111.11h.7M414.84 114.24h.7M416.33 112.45h.7M416.96 107.61h.7M417.98 116.94h.7M415.4 111.27h.7M412.37 108.9h.7M410.67 117.59h.7M412.4 118.11h.7M410.02 109.6h.7M411.61 109.5h.7M420.81 107.22h.7M413.18 116.38h.7M415.89 120.71h.7M414.93 111.01h.7M415.14 110.61h.7" stroke="#9098f5" stroke-width="0.7" stroke-opacity="0.7" fill="none"/>
<path d="M410.47 117.09h.7M416.75 115.97h.7M408.43 116.29h.7M411.68 121.24h.7M410.66 117.66h.7M413.21 118.5h.7M411 114.99h.7M415.34 116.8h.7M407.43 122.16h.7M414.01 117.54h.7M414.51 119.91h.7M412.82 118.28h.7M410.44 117.71h.7M414.6 116.64h.7M407.76 116.72h.7M417.34 120.6h.7M412.39 127.53h.7M415.15 116.56h.7M413.27 124.42h.7M414.76 124.74h.7M414.19 122.11h.7M413.33 114.66h.7M411.75 115.5h.7M411.96 126.75h.7M411.46 114.36h.7M409.06 115.76h.7M411.56 114.45h.7M413.05 134.28h.7M412.33 120.2h.7M408.49 122.61h.7M410 127.58h.7M407.47 113.84h.7M409.66 123.43h.7M408.59 118.7h.7M408.77 129.09h.7M410.61 116.16h.7M412.15 140.66h.7M412.82 115.47h.7M410.83 130.15h.7M412.82 119.13h.7M413.2 116.1h.7M415.3 114.1h.7M409.02 116.73h.7M407.28 114.42h.7M414.23 120.47h.7M414.38 114.15h.7M412.13 132.05h.7M409.32 128.81h.7M409.37 127.96h.7M413.83 114.31h.7M417.42 115.88h.7M414.96 118.5h.7M412 117.12h.7M414.67 114.09h.7M412.84 115.27h.7M409.91 118.75h.7M413.21 130.34h.7M412.02 117.83h.7M409.09 115.47h.7M413.2 116.89h.7M409.45 123.56h.7M410.51 114.73h.7M407.95 122.73h.7M410.6 117.65h.7M414.52 121.39h.7M411.7 122.62h.7M407.08 127.94h.7M413.92 115.39h.7M412.43 114.65h.7M411.36 115.51h.7M410.18 122.5h.7M412.04 123.43h.7M414.07 119.81h.7M408.82 127.41h.7M409.85 125.95h.7M406.96 122.65h.7M413.23 134.97h.7M411 116.65h.7M411.71 122.45h.7M414.01 118.43h.7M409.95 128.78h.7M410.2 116.06h.7M414.75 114.1h.7M415.75 123.58h.7M411.03 122.71h.7M412.1 120.63h.7M418.74 117.03h.7M409.75 114.89h.7M408.05 117.49h.7M414.79 120.37h.7M408.2 122.44h.7M410.47 128.56h.7M418.05 123.2h.7M415.59 116.25h.7M411.88 124.18h.7M409.97 119.89h.7M415.57 121.44h.7M413.46 117.86h.7M410.2 122.69h.7M412.9 121.48h.7M410.05 122.16h.7M412.43 131.96h.7M414.34 123.82h.7M416.95 119.87h.7M413.89 117.12h.7M411.63 121.69h.7M414.67 115.08h.7M410.72 117.65h.7M411.93 114.8h.7M411.73 115.99h.7M415.23 121.69h.7M410.13 122.59h.7M411.84 116.72h.7M416.47 120.87h.7M411.84 115.86h.7M413.14 120.27h.7M414.72 122.92h.7M414.34 128.49h.7M413.62 114.15h.7M410.71 118.16h.7M412.87 118.52h.7M415 116.44h.7M415.76 118.17h.7M409.74 119.47h.7M409.64 120.61h.7M414.24 113.96h.7M414.21 130.49h.7M412.33 114h.7M414.94 122.18h.7M411.42 120.6h.7M409.58 119.34h.7M415.07 115.71h.7M413.07 119.98h.7M410.24 116.48h.7M415.01 117.96h.7M411.25 127.4h.7M405.88 118.51h.7M410.16 124.09h.7M414.39 113.93h.7M408.22 116.21h.7M415.7 118.39h.7M416.49 119.91h.7M414.49 120.82h.7M410.43 124.3h.7M415.72 117.12h.7M411.52 115.67h.7M413.07 118.75h.7M409.98 118.99h.7M415.29 116.32h.7M415 117.87h.7M416.14 123.22h.7M415.91 118.43h.7M416.81 121.07h.7M413.75 122.12h.7M412.04 124.17h.7M412.12 117.41h.7M416.21 117.77h.7M409.31 114.87h.7M412.05 116.79h.7M412.83 128.53h.7M411.41 115.46h.7M411.03 130.4h.7M414.24 116.54h.7M414.45 119.71h.7M411.26 120.28h.7M412.09 136.97h.7M415.05 121.23h.7M415.73 115.22h.7M410.74 122.9h.7M408.99 114.94h.7M418.26 124.64h.7M413.83 116.39h.7M410.41 120h.7M413.15 120.14h.7M409.87 115.33h.7M411.49 131.21h.7M413.59 113.9h.7M416.66 115.26h.7M413.5 118.23h.7M406.64 115.94h.7M410 130.03h.7M409.57 113.87h.7M413.2 115.96h.7M410.54 123.2h.7M415.26 122.52h.7M410.34 117.17h.7M409.93 133.02h.7M412.12 123.08h.7M412.79 118.13h.7M411.8 124.21h.7M411.36 121.05h.7M415.93 119.7h.7M410.53 118.87h.7M413.14 119.24h.7M409.53 114.49h.7M412.33 119.52h.7M412.89 114.93h.7M415.55 119.86h.7M416.49 123.57h.7M417.18 115.22h.7" stroke="#a9aef7" stroke-width="0.7" stroke-opacity="0.7" fill="none"/>
<path d="M416.2 118.26h.7M412.02 112.48h.7M412.11 113.98h.7M412.7 115.43h.7M414.83 116.76h.7M412.66 111.09h.7M412.47 114.09h.7M413.67 111.21h.7M411.17 109.81h.7M415.99 109.84h.7M413.6 116.75h.7M411.99 112.08h.7M416.54 113.02h.7M411.66 114.8h.7M415.22 114.57h.7M414.75 111.78h.7M411.2 112.59h.7M415.83 113.72h.7M413.32 115.62h.7M411.92 108.82h.7M411.63 110.37h.7M413.34 116.72h.7M412.52 110.64h.7M414.12 109.4h.7M415.2 113.98h.7M415.23 112.43h.7M415.87 115.69h.7M413.24 111.67h.7M412.24 119.82h.7M413.5 112.83h.7M413.62 111.79h.7M412.57 112.88h.7M414.67 116.64h.7M414.1 109.36h.7M414.2 110.64h.7M410.94 115.69h.7M416.25 114.15h.7M415.05 110.17h.7M414.75 111.51h.7M414.06 109.88h.7M411.27 112.38h.7M414.15 115.85h.7M409.04 115.75h.7M415.86 106.45h.7M413.8 112.27h.7M412.68 116.3h.7M414.46 112.7h.7M416.32 109.88h.7M412.07 116.27h.7M414.25 114.28h.7M415.95 113.14h.7M414.15 115.08h.7M410.68 113.34h.7M412.33 112.3h.7M412.68 115.59h.7M416.46 114.82h.7M413.32 115.81h.7M414.23 114.09h.7M415.67 114.35h.7M412.53 114.06h.7M412.28 111.89h.7M416.02 114.49h.7M414.44 111.01h.7M410.67 115.88h.7M413.19 111.99h.7M412.31 114.51h.7M416.27 110.2h.7M415.08 113.88h.7M414.52 111.97h.7M414.64 106.49h.7M415.56 113.64h.7M412.58 115.06h.7M411.84 112.61h.7M413.45 113.65h.7M412.57 113.16h.7M413.86 114.84h.7M414.47 109.84h.7M413.63 108.21h.7M415.21 116.75h.7M413.4 115.55h.7M413.74 112.86h.7M407.37 110.47h.7M415.27 112.1h.7M412.36 112.7h.7M412.56 108.11h.7M414.82 110.96h.7M412.93 112.2h.7M414.69 112.86h.7M411.21 110.72h.7M411.73 111.54h.7M413.44 112.96h.7M411.5 116.67h.7M410.76 114.2h.7M411.07 118.15h.7M411.99 116.29h.7M408.88 112.99h.7M412.22 116.18h.7M412.22 114.44h.7M411.94 112.74h.7M410.95 115.44h.7M416.23 109.17h.7M412.61 110.63h.7M413.43 108.53h.7M412.8 115.7h.7M413.14 112.9h.7M413.7 110.6h.7M413.47 118.64h.7M415.26 114.96h.7M414.79 109.45h.7M413.91 110.81h.7M413.06 114.82h.7M410.52 111.43h.7M414.25 112.07h.7M415.07 108.88h.7M412.83 107.12h.7M411.12 112.91h.7M416.56 112.89h.7M413.96 110.01h.7M415.58 107.57h.7M416.52 109.84h.7M415.69 111.9h.7M415.48 114.3h.7M410.62 113.27h.7M410.71 111.45h.7M416.59 118.28h.7M415.49 115.87h.7M414.33 113.51h.7M409.85 110.46h.7M414.16 116.72h.7M414.2 114.63h.7M416.03 111.4h.7M412.81 110.94h.7M414.78 113.02h.7M414.24 113.18h.7M412.74 110.35h.7M412.81 112.37h.7M413.67 112.76h.7M411.87 109.94h.7M415.85 111.25h.7M410.44 117.97h.7M409.72 115.19h.7M412.53 114.04h.7M415.32 114.09h.7M412.7 113.86h.7M412.11 111.35h.7M412.55 117.08h.7M413.72 110.49h.7M415.17 112.38h.7M413.76 110.25h.7M413.06 117.33h.7M413.36 113.36h.7M412.51 120.52h.7M411.62 113.4h.7M415.1 115.57h.7M415.15 114.09h.7M412.34 117.31h.7M412.59 115.19h.7M411.83 111.08h.7M410.81 116.44h.7M414.06 117.75h.7M413.02 113.38h.7M414.44 116.4h.7M417.44 107.67h.7" stroke="#5a68f2" stroke-width="0.7" stroke-opacity="0.7" fill="none"/>
<path d="M413.13 112.32h.7M412.06 111.42h.7M413.26 113.35h.7M412.83 110.28h.7M415.7 112.38h.7M412.82 114.74h.7M414.7 110.07h.7M412.9 110.95h.7M413.05 115.42h.7M411.87 114.22h.7M414.49 111.65h.7M412.02 114.84h.7M413.2 113.82h.7M412.08 110.09h.7M412.23 114.06h.7M413.37 111.74h.7M413.97 114.38h.7M413.66 111.45h.7M412.43 111.94h.7M412.83 114.8h.7M412.31 114.28h.7M414.13 114.69h.7M414.72 114.45h.7M411.41 111.83h.7M414.1 113.75h.7M414.4 110.95h.7M413.65 113.74h.7M413.56 116.79h.7M412.03 112.4h.7M413.67 111.31h.7M413.44 117.67h.7M414.47 115.72h.7M412.99 112.81h.7M413.2 115.74h.7" stroke="#3a78f0" stroke-width="0.7" stroke-opacity="0.85" fill="none"/>
<path d="M413.36 113.03h.7M413.69 113.16h.7M414.16 112.36h.7M412.79 114.44h.7M410.07 115.24h.7M411.37 110.12h.7M414.87 113.68h.7M411.42 113.25h.7M411.6 112.64h.7M415.21 111.34h.7M413.49 112.39h.7M411.3 115.65h.7M413.61 113.55h.7M413.94 110.66h.7M412.84 111.52h.7M415.07 112.74h.7M413.08 114.59h.7M414.9 116.2h.7M413.15 111.28h.7M411.57 113.87h.7M412.9 113.43h.7M411.94 114.37h.7M414.23 114.31h.7M413.04 110.89h.7M413.32 113.41h.7M412.57 110.11h.7M410.67 111.7h.7M411.37 111.74h.7M413.02 112.66h.7M413.76 112.04h.7M414.18 112.69h.7M414.8 110.94h.7M411.96 116.34h.7M412.07 114.29h.7M413.15 111.8h.7M410.34 114.03h.7M411.34 111.54h.7" stroke="#2fb0e4" stroke-width="0.7" stroke-opacity="0.85" fill="none"/>
<path d="M414.7 112.38h.7M413.69 115.37h.7M412.39 111.06h.7M411.01 112.13h.7M412.58 113.86h.7M413.27 111.32h.7M414.14 112.94h.7M413.83 108.95h.7M414.77 111.21h.7M412.86 109.96h.7M414.31 110.35h.7M411.36 117.37h.7M414.13 111.52h.7M412.34 109.85h.7M412.36 111.1h.7M412.55 113.75h.7M413.7 111.53h.7M413.95 115.05h.7M412.17 110.53h.7M413.4 115.12h.7M412.84 114.44h.7M411.96 110.01h.7M412.49 111.58h.7M413.17 111.02h.7M412.86 112.47h.7M414.92 111.75h.7M411.74 112.92h.7M413.72 113.69h.7M410.92 113.79h.7M413.11 110.72h.7M413.81 114.27h.7M413.87 117.74h.7M413.91 111.67h.7M412.5 110.21h.7M413.4 112.35h.7M413.29 114.01h.7M411.49 113.88h.7M412.82 114.04h.7M414.45 116.12h.7" stroke="#2f8fe8" stroke-width="0.7" stroke-opacity="0.85" fill="none"/>
<path d="M412.53 112.68h.7M413.52 112.55h.7M413.55 112.07h.7M414.13 111.51h.7M412.94 113.53h.7M413.66 114.29h.7M413.25 113.35h.7M413.73 113.03h.7M414.42 111.36h.7M413.28 113.9h.7M413.78 112.61h.7M413.76 113.53h.7M413.99 113.56h.7M412.62 112.76h.7M412.88 114.07h.7M414.14 111.91h.7M412.1 112.93h.7M413.12 112.12h.7M413.05 112.19h.7M413.38 112.77h.7" stroke="#6ad04a" stroke-width="0.7" stroke-opacity="0.85" fill="none"/>
<path d="M413.82 110.35h.7M413.16 114.71h.7M413.06 112.97h.7M412.95 113.71h.7M413.74 111.28h.7M413.95 113.13h.7M412.41 114.51h.7M413.46 112.45h.7" stroke="#2fc9b0" stroke-width="0.7" stroke-opacity="0.85" fill="none"/>
<path d="M413.13 112.26h.7M413.4 113.5h.7M412.28 113.46h.7M414.67 112.74h.7M411.95 113h.7M412.79 112.39h.7M412.71 112.16h.7M412.48 113.96h.7M412.95 113.55h.7M412.82 112.92h.7M413.3 112.69h.7M413.4 113.46h.7M412.36 113.46h.7M412.61 114.87h.7M412.43 111.79h.7" stroke="#35c46a" stroke-width="0.7" stroke-opacity="0.85" fill="none"/>
<path d="M413.12 112.53h.7M412.67 113.74h.7M413.26 112.16h.7M413.05 112.37h.7M412.95 114.06h.7M413.35 112.44h.7" stroke="#b8d83a" stroke-width="0.7" stroke-opacity="0.85" fill="none"/>
<rect x="404.4" y="92.1" width="19.8" height="15.3" fill="none" stroke="#707070" stroke-width="0.7"/>
<text transform="translate(377.3,97.27) scale(1,1.04)" font-size="6.9" fill="#000">2.95</text>
<text transform="translate(340.2,12.5) scale(1,1.04)" font-size="9.4" text-anchor="middle" fill="#000">WT</text>
<text transform="translate(405.5,12.5) scale(1,1.04)" font-size="9.4" text-anchor="middle" fill="#000"><tspan font-style="italic">Hif1α</tspan><tspan font-style="italic" font-size="6.2" dy="-2.35">-/-</tspan></text>
<text transform="translate(282.3,57) scale(1,1.04)" font-size="9.4" text-anchor="middle" fill="#000">CD4</text>
<text transform="translate(282.3,122.3) scale(1,1.04)" font-size="9.4" text-anchor="middle" fill="#000">CD8</text>
<polygon points="298.8,25.6 294.9,32.7 302.7,32.7" fill="#000"/>
<line x1="298.8" y1="32.2" x2="298.8" y2="90.7" stroke="#3a3a3a" stroke-width="1.3"/>
<text transform="translate(298.4,119.4) rotate(-90) translate(0,3.31) scale(1,1.04)" font-size="8.9" text-anchor="middle" fill="#000">IFN-γ-BV650</text>
<text transform="translate(307.9,161.37) scale(1,1.04)" font-size="9.05" fill="#000">TCRβ-APC-Cy7</text>
<polygon points="431.2,158.2 423.1,154.3 423.1,162.1" fill="#000"/>
<line x1="375" y1="158.2" x2="423.6" y2="158.2" stroke="#3a3a3a" stroke-width="1.3"/>
<text transform="translate(449.5,44.8) rotate(-90) translate(0,3.33) scale(1,1.04)" font-size="8.95" text-anchor="middle" fill="#000">% of IFN-γ<tspan font-size="6.4" dy="-3.4">+</tspan><tspan dy="3.4"> cells</tspan></text>
<line x1="481.45" y1="48.3" x2="500.95" y2="48.3" stroke="#0000ff" stroke-width="1"/>
<line x1="491.2" y1="42.7" x2="491.2" y2="53.9" stroke="#0000ff" stroke-width="1"/>
<line x1="486.2" y1="42.7" x2="496.2" y2="42.7" stroke="#0000ff" stroke-width="1"/>
<line x1="486.2" y1="53.9" x2="496.2" y2="53.9" stroke="#0000ff" stroke-width="1"/>
<circle cx="484.3" cy="24.5" r="2.9" fill="#fff" stroke="#0000ff" stroke-width="1"/>
<circle cx="484.4" cy="32.1" r="2.9" fill="#fff" stroke="#0000ff" stroke-width="1"/>
<circle cx="491.2" cy="29.2" r="2.9" fill="#fff" stroke="#0000ff" stroke-width="1"/>
<circle cx="498" cy="30.3" r="2.9" fill="#fff" stroke="#0000ff" stroke-width="1"/>
<circle cx="491.2" cy="35.3" r="2.9" fill="#fff" stroke="#0000ff" stroke-width="1"/>
<circle cx="491.2" cy="43.4" r="2.9" fill="#fff" stroke="#0000ff" stroke-width="1"/>
<circle cx="484.3" cy="63.4" r="2.9" fill="#fff" stroke="#0000ff" stroke-width="1"/>
<circle cx="498" cy="64.5" r="2.9" fill="#fff" stroke="#0000ff" stroke-width="1"/>
<circle cx="491.2" cy="68.5" r="2.9" fill="#fff" stroke="#0000ff" stroke-width="1"/>
<circle cx="484.3" cy="70.3" r="2.9" fill="#fff" stroke="#0000ff" stroke-width="1"/>
<circle cx="498" cy="69.7" r="2.9" fill="#fff" stroke="#0000ff" stroke-width="1"/>
<line x1="509.55" y1="69.7" x2="529.05" y2="69.7" stroke="#ff0000" stroke-width="1"/>
<line x1="519.3" y1="67.8" x2="519.3" y2="71.6" stroke="#ff0000" stroke-width="1"/>
<line x1="514.3" y1="67.8" x2="524.3" y2="67.8" stroke="#ff0000" stroke-width="1"/>
<line x1="514.3" y1="71.6" x2="524.3" y2="71.6" stroke="#ff0000" stroke-width="1"/>
<rect x="513.1" y="61.2" width="5.4" height="5.4" fill="#fff" stroke="#ff0000" stroke-width="1"/>
<rect x="517.7" y="64.7" width="5.4" height="5.4" fill="#fff" stroke="#ff0000" stroke-width="1"/>
<rect x="509.8" y="68.5" width="5.4" height="5.4" fill="#fff" stroke="#ff0000" stroke-width="1"/>
<rect x="515.6" y="68.5" width="5.4" height="5.4" fill="#fff" stroke="#ff0000" stroke-width="1"/>
<rect x="522.2" y="69.2" width="5.4" height="5.4" fill="#fff" stroke="#ff0000" stroke-width="1"/>
<line x1="490.1" y1="17" x2="519.8" y2="17" stroke="#1a1a1a" stroke-width="1.2"/>
<text transform="translate(505.1,17.5)" font-size="9.4" text-anchor="middle" fill="#000" letter-spacing="1.4" font-weight="bold" font-family="DejaVu Sans, sans-serif">**</text>
<text transform="translate(448.9,127) rotate(-90) translate(0,3.33) scale(1,1.04)" font-size="8.95" text-anchor="middle" fill="#000">% of IFN-γ<tspan font-size="6.4" dy="-3.4">+</tspan><tspan dy="3.4"> cells</tspan></text>
<line x1="481.45" y1="129" x2="500.95" y2="129" stroke="#0000ff" stroke-width="1"/>
<line x1="491.2" y1="123.4" x2="491.2" y2="134.4" stroke="#0000ff" stroke-width="1"/>
<line x1="486.2" y1="123.4" x2="496.2" y2="123.4" stroke="#0000ff" stroke-width="1"/>
<line x1="486.2" y1="134.4" x2="496.2" y2="134.4" stroke="#0000ff" stroke-width="1"/>
<clipPath id="cp2"><rect x="471.5" y="90" width="73.5" height="63.5"/></clipPath><g clip-path="url(#cp2)">
<circle cx="484.3" cy="107.4" r="2.9" fill="#fff" stroke="#0000ff" stroke-width="1"/>
<circle cx="484.3" cy="113.7" r="2.9" fill="#fff" stroke="#0000ff" stroke-width="1"/>
<circle cx="491.2" cy="111.5" r="2.9" fill="#fff" stroke="#0000ff" stroke-width="1"/>
<circle cx="498" cy="114.8" r="2.9" fill="#fff" stroke="#0000ff" stroke-width="1"/>
<circle cx="491.2" cy="116.6" r="2.9" fill="#fff" stroke="#0000ff" stroke-width="1"/>
<circle cx="491.2" cy="124.9" r="2.9" fill="#fff" stroke="#0000ff" stroke-width="1"/>
<circle cx="498" cy="140.2" r="2.9" fill="#fff" stroke="#0000ff" stroke-width="1"/>
<circle cx="484.3" cy="145.2" r="2.9" fill="#fff" stroke="#0000ff" stroke-width="1"/>
<circle cx="491.2" cy="147" r="2.9" fill="#fff" stroke="#0000ff" stroke-width="1"/>
<circle cx="498" cy="146.7" r="2.9" fill="#fff" stroke="#0000ff" stroke-width="1"/>
<circle cx="484.3" cy="152.4" r="2.9" fill="#fff" stroke="#0000ff" stroke-width="1"/>
<line x1="509.55" y1="148.5" x2="529.05" y2="148.5" stroke="#ff0000" stroke-width="1"/>
<line x1="519.3" y1="146" x2="519.3" y2="151" stroke="#ff0000" stroke-width="1"/>
<line x1="514.3" y1="146" x2="524.3" y2="146" stroke="#ff0000" stroke-width="1"/>
<line x1="514.3" y1="151" x2="524.3" y2="151" stroke="#ff0000" stroke-width="1"/>
<rect x="520.5" y="137.7" width="5.4" height="5.4" fill="#fff" stroke="#ff0000" stroke-width="1"/>
<rect x="516.2" y="140.2" width="5.4" height="5.4" fill="#fff" stroke="#ff0000" stroke-width="1"/>
<rect x="513.7" y="145.1" width="5.4" height="5.4" fill="#fff" stroke="#ff0000" stroke-width="1"/>
<rect x="519.6" y="145.1" width="5.4" height="5.4" fill="#fff" stroke="#ff0000" stroke-width="1"/>
<rect x="510.7" y="148.9" width="5.4" height="5.4" fill="#fff" stroke="#ff0000" stroke-width="1"/>
<rect x="517" y="148.9" width="5.4" height="5.4" fill="#fff" stroke="#ff0000" stroke-width="1"/>
<rect x="523.5" y="148.9" width="5.4" height="5.4" fill="#fff" stroke="#ff0000" stroke-width="1"/>
</g>
<line x1="490.1" y1="102" x2="520" y2="102" stroke="#1a1a1a" stroke-width="1.2"/>
<text transform="translate(505.4,102.5)" font-size="9.4" text-anchor="middle" fill="#000" letter-spacing="1.4" font-weight="bold" font-family="DejaVu Sans, sans-serif">**</text>
<text transform="translate(491.2,166.2) scale(1,1.04)" font-size="9.4" text-anchor="middle" fill="#000">WT</text>
<text transform="translate(520.2,166.2) scale(1,1.04)" font-size="9.4" text-anchor="middle" fill="#000"><tspan font-style="italic">Hif1α</tspan><tspan font-style="italic" font-size="6.2" dy="-3.57">-/-</tspan></text>
<line x1="471.5" y1="11.02" x2="471.5" y2="74.38" stroke="#1a1a1a" stroke-width="1.35"/>
<line x1="468.3" y1="73.7" x2="471.5" y2="73.7" stroke="#1a1a1a" stroke-width="1.35"/>
<text transform="translate(466.9,77.2) scale(1,1.04)" font-size="9.4" text-anchor="end" fill="#000">0</text>
<line x1="468.3" y1="53.3" x2="471.5" y2="53.3" stroke="#1a1a1a" stroke-width="1.35"/>
<text transform="translate(466.9,56.8) scale(1,1.04)" font-size="9.4" text-anchor="end" fill="#000">20</text>
<line x1="468.3" y1="32.6" x2="471.5" y2="32.6" stroke="#1a1a1a" stroke-width="1.35"/>
<text transform="translate(466.9,36.1) scale(1,1.04)" font-size="9.4" text-anchor="end" fill="#000">40</text>
<line x1="468.3" y1="11.7" x2="471.5" y2="11.7" stroke="#1a1a1a" stroke-width="1.35"/>
<text transform="translate(466.9,15.2) scale(1,1.04)" font-size="9.4" text-anchor="end" fill="#000">60</text>
<line x1="470.82" y1="73.7" x2="540.67" y2="73.7" stroke="#1a1a1a" stroke-width="1.35"/>
<line x1="491.2" y1="73.7" x2="491.2" y2="76.9" stroke="#1a1a1a" stroke-width="1.35"/>
<line x1="519.3" y1="73.7" x2="519.3" y2="76.9" stroke="#1a1a1a" stroke-width="1.35"/>
<line x1="471.5" y1="94.62" x2="471.5" y2="154.18" stroke="#1a1a1a" stroke-width="1.35"/>
<line x1="468.3" y1="153.5" x2="471.5" y2="153.5" stroke="#1a1a1a" stroke-width="1.35"/>
<text transform="translate(466.9,157) scale(1,1.04)" font-size="9.4" text-anchor="end" fill="#000">0</text>
<line x1="468.3" y1="138.9" x2="471.5" y2="138.9" stroke="#1a1a1a" stroke-width="1.35"/>
<text transform="translate(466.9,142.4) scale(1,1.04)" font-size="9.4" text-anchor="end" fill="#000">20</text>
<line x1="468.3" y1="124.3" x2="471.5" y2="124.3" stroke="#1a1a1a" stroke-width="1.35"/>
<text transform="translate(466.9,127.8) scale(1,1.04)" font-size="9.4" text-anchor="end" fill="#000">40</text>
<line x1="468.3" y1="109.7" x2="471.5" y2="109.7" stroke="#1a1a1a" stroke-width="1.35"/>
<text transform="translate(466.9,113.2) scale(1,1.04)" font-size="9.4" text-anchor="end" fill="#000">60</text>
<line x1="468.3" y1="95.3" x2="471.5" y2="95.3" stroke="#1a1a1a" stroke-width="1.35"/>
<text transform="translate(466.9,98.8) scale(1,1.04)" font-size="9.4" text-anchor="end" fill="#000">80</text>
<line x1="470.82" y1="153.5" x2="540.67" y2="153.5" stroke="#1a1a1a" stroke-width="1.35"/>
<line x1="491.2" y1="153.5" x2="491.2" y2="156.7" stroke="#1a1a1a" stroke-width="1.35"/>
<line x1="519.3" y1="153.5" x2="519.3" y2="156.7" stroke="#1a1a1a" stroke-width="1.35"/>
<text transform="translate(631,178.8) scale(1,1.04)" font-size="9.4" text-anchor="middle" fill="#000">Time (days)</text>
<text transform="translate(551.9,101.3) rotate(-90) translate(0,3.44) scale(1,1.04)" font-size="9.25" text-anchor="middle" fill="#000">Tumor growth (mm3)</text>
<clipPath id="cp3"><rect x="582.6" y="0" width="102.4" height="148.4"/></clipPath><g clip-path="url(#cp3)">
<line x1="611.64" y1="136.4" x2="611.64" y2="134.72" stroke="#ff0000" stroke-width="1.05"/>
<line x1="608.64" y1="134.72" x2="614.64" y2="134.72" stroke="#ff0000" stroke-width="1.05"/>
<line x1="621.32" y1="127.28" x2="621.32" y2="124.88" stroke="#ff0000" stroke-width="1.05"/>
<line x1="618.32" y1="124.88" x2="624.32" y2="124.88" stroke="#ff0000" stroke-width="1.05"/>
<line x1="631" y1="114.08" x2="631" y2="111.2" stroke="#ff0000" stroke-width="1.05"/>
<line x1="628" y1="111.2" x2="634" y2="111.2" stroke="#ff0000" stroke-width="1.05"/>
<line x1="645.52" y1="94.88" x2="645.52" y2="91.52" stroke="#ff0000" stroke-width="1.05"/>
<line x1="642.52" y1="91.52" x2="648.52" y2="91.52" stroke="#ff0000" stroke-width="1.05"/>
<line x1="655.2" y1="82.4" x2="655.2" y2="76.16" stroke="#ff0000" stroke-width="1.05"/>
<line x1="652.2" y1="76.16" x2="658.2" y2="76.16" stroke="#ff0000" stroke-width="1.05"/>
<line x1="664.88" y1="68.96" x2="664.88" y2="56.48" stroke="#ff0000" stroke-width="1.05"/>
<line x1="661.88" y1="56.48" x2="667.88" y2="56.48" stroke="#ff0000" stroke-width="1.05"/>
<line x1="611.64" y1="138.8" x2="611.64" y2="137.36" stroke="#ff0000" stroke-width="1.05"/>
<line x1="608.64" y1="137.36" x2="614.64" y2="137.36" stroke="#ff0000" stroke-width="1.05"/>
<line x1="621.32" y1="131.6" x2="621.32" y2="129.44" stroke="#ff0000" stroke-width="1.05"/>
<line x1="618.32" y1="129.44" x2="624.32" y2="129.44" stroke="#ff0000" stroke-width="1.05"/>
<line x1="631" y1="123.2" x2="631" y2="120.32" stroke="#ff0000" stroke-width="1.05"/>
<line x1="628" y1="120.32" x2="634" y2="120.32" stroke="#ff0000" stroke-width="1.05"/>
<line x1="645.52" y1="106.16" x2="645.52" y2="100.88" stroke="#ff0000" stroke-width="1.05"/>
<line x1="642.52" y1="100.88" x2="648.52" y2="100.88" stroke="#ff0000" stroke-width="1.05"/>
<line x1="655.2" y1="96.08" x2="655.2" y2="88.88" stroke="#ff0000" stroke-width="1.05"/>
<line x1="652.2" y1="88.88" x2="658.2" y2="88.88" stroke="#ff0000" stroke-width="1.05"/>
<line x1="664.88" y1="83.6" x2="664.88" y2="74" stroke="#ff0000" stroke-width="1.05"/>
<line x1="661.88" y1="74" x2="667.88" y2="74" stroke="#ff0000" stroke-width="1.05"/>
<line x1="611.64" y1="137.36" x2="611.64" y2="135.44" stroke="#0000ff" stroke-width="1.15"/>
<line x1="608.64" y1="135.44" x2="614.64" y2="135.44" stroke="#0000ff" stroke-width="1.15"/>
<line x1="621.32" y1="128.72" x2="621.32" y2="126.32" stroke="#0000ff" stroke-width="1.15"/>
<line x1="618.32" y1="126.32" x2="624.32" y2="126.32" stroke="#0000ff" stroke-width="1.15"/>
<line x1="631" y1="121.52" x2="631" y2="118.16" stroke="#0000ff" stroke-width="1.15"/>
<line x1="628" y1="118.16" x2="634" y2="118.16" stroke="#0000ff" stroke-width="1.15"/>
<line x1="645.52" y1="120.8" x2="645.52" y2="114.8" stroke="#0000ff" stroke-width="1.15"/>
<line x1="642.52" y1="114.8" x2="648.52" y2="114.8" stroke="#0000ff" stroke-width="1.15"/>
<line x1="655.2" y1="114.8" x2="655.2" y2="106.16" stroke="#0000ff" stroke-width="1.15"/>
<line x1="652.2" y1="106.16" x2="658.2" y2="106.16" stroke="#0000ff" stroke-width="1.15"/>
<line x1="664.88" y1="94.4" x2="664.88" y2="75.2" stroke="#0000ff" stroke-width="1.15"/>
<line x1="661.88" y1="75.2" x2="667.88" y2="75.2" stroke="#0000ff" stroke-width="1.15"/>
<line x1="611.64" y1="140" x2="611.64" y2="138.56" stroke="#0000ff" stroke-width="1.15"/>
<line x1="608.64" y1="138.56" x2="614.64" y2="138.56" stroke="#0000ff" stroke-width="1.15"/>
<line x1="621.32" y1="133.76" x2="621.32" y2="131.84" stroke="#0000ff" stroke-width="1.15"/>
<line x1="618.32" y1="131.84" x2="624.32" y2="131.84" stroke="#0000ff" stroke-width="1.15"/>
<line x1="631" y1="122.48" x2="631" y2="119.6" stroke="#0000ff" stroke-width="1.15"/>
<line x1="628" y1="119.6" x2="634" y2="119.6" stroke="#0000ff" stroke-width="1.15"/>
<line x1="645.52" y1="122" x2="645.52" y2="118.64" stroke="#0000ff" stroke-width="1.15"/>
<line x1="642.52" y1="118.64" x2="648.52" y2="118.64" stroke="#0000ff" stroke-width="1.15"/>
<line x1="655.2" y1="127.52" x2="655.2" y2="123.68" stroke="#0000ff" stroke-width="1.15"/>
<line x1="652.2" y1="123.68" x2="658.2" y2="123.68" stroke="#0000ff" stroke-width="1.15"/>
<line x1="664.88" y1="121.28" x2="664.88" y2="116" stroke="#0000ff" stroke-width="1.15"/>
<line x1="661.88" y1="116" x2="667.88" y2="116" stroke="#0000ff" stroke-width="1.15"/>
<polyline points="582.6,148.4 611.64,136.4 621.32,127.28 631,114.08 645.52,94.88 655.2,82.4 664.88,68.96" fill="none" stroke="#ff0000" stroke-width="1.05"/>
<polyline points="582.6,148.4 611.64,138.8 621.32,131.6 631,123.2 645.52,106.16 655.2,96.08 664.88,83.6" fill="none" stroke="#ff0000" stroke-width="1.05"/>
<polyline points="582.6,148.4 611.64,137.36 621.32,128.72 631,121.52 645.52,120.8 655.2,114.8 664.88,94.4" fill="none" stroke="#0000ff" stroke-width="1.15"/>
<polyline points="582.6,148.4 611.64,140 621.32,133.76 631,122.48 645.52,122 655.2,127.52 664.88,121.28" fill="none" stroke="#0000ff" stroke-width="1.15"/>
<rect x="580" y="145.8" width="5.2" height="5.2" fill="#fff" stroke="#ff0000" stroke-width="1.05"/>
<rect x="580" y="145.8" width="5.2" height="2.6" fill="#ff3c3c"/>
<rect x="609.04" y="133.8" width="5.2" height="5.2" fill="#fff" stroke="#ff0000" stroke-width="1.05"/>
<rect x="609.04" y="133.8" width="5.2" height="2.6" fill="#ff3c3c"/>
<rect x="618.72" y="124.68" width="5.2" height="5.2" fill="#fff" stroke="#ff0000" stroke-width="1.05"/>
<rect x="618.72" y="124.68" width="5.2" height="2.6" fill="#ff3c3c"/>
<rect x="628.4" y="111.48" width="5.2" height="5.2" fill="#fff" stroke="#ff0000" stroke-width="1.05"/>
<rect x="628.4" y="111.48" width="5.2" height="2.6" fill="#ff3c3c"/>
<rect x="642.92" y="92.28" width="5.2" height="5.2" fill="#fff" stroke="#ff0000" stroke-width="1.05"/>
<rect x="642.92" y="92.28" width="5.2" height="2.6" fill="#ff3c3c"/>
<rect x="652.6" y="79.8" width="5.2" height="5.2" fill="#fff" stroke="#ff0000" stroke-width="1.05"/>
<rect x="652.6" y="79.8" width="5.2" height="2.6" fill="#ff3c3c"/>
<rect x="662.28" y="66.36" width="5.2" height="5.2" fill="#fff" stroke="#ff0000" stroke-width="1.05"/>
<rect x="662.28" y="66.36" width="5.2" height="2.6" fill="#ff3c3c"/>
<circle cx="582.6" cy="148.4" r="2.75" fill="#fff" stroke="#0000ff" stroke-width="1.15"/>
<path d="M579.85,148.8 A2.75,2.75 0 0 1 585.35,148.8 Z" fill="#0000ff"/>
<circle cx="611.64" cy="137.36" r="2.75" fill="#fff" stroke="#0000ff" stroke-width="1.15"/>
<path d="M608.89,137.76 A2.75,2.75 0 0 1 614.39,137.76 Z" fill="#0000ff"/>
<circle cx="621.32" cy="128.72" r="2.75" fill="#fff" stroke="#0000ff" stroke-width="1.15"/>
<path d="M618.57,129.12 A2.75,2.75 0 0 1 624.07,129.12 Z" fill="#0000ff"/>
<circle cx="631" cy="121.52" r="2.75" fill="#fff" stroke="#0000ff" stroke-width="1.15"/>
<path d="M628.25,121.92 A2.75,2.75 0 0 1 633.75,121.92 Z" fill="#0000ff"/>
<circle cx="645.52" cy="120.8" r="2.75" fill="#fff" stroke="#0000ff" stroke-width="1.15"/>
<path d="M642.77,121.2 A2.75,2.75 0 0 1 648.27,121.2 Z" fill="#0000ff"/>
<circle cx="655.2" cy="114.8" r="2.75" fill="#fff" stroke="#0000ff" stroke-width="1.15"/>
<path d="M652.45,115.2 A2.75,2.75 0 0 1 657.95,115.2 Z" fill="#0000ff"/>
<circle cx="664.88" cy="94.4" r="2.75" fill="#fff" stroke="#0000ff" stroke-width="1.15"/>
<path d="M662.13,94.8 A2.75,2.75 0 0 1 667.63,94.8 Z" fill="#0000ff"/>
<rect x="580" y="145.8" width="5.2" height="5.2" fill="#fff" stroke="#ff0000" stroke-width="1.05"/>
<rect x="609.04" y="136.2" width="5.2" height="5.2" fill="#fff" stroke="#ff0000" stroke-width="1.05"/>
<rect x="618.72" y="129" width="5.2" height="5.2" fill="#fff" stroke="#ff0000" stroke-width="1.05"/>
<rect x="628.4" y="120.6" width="5.2" height="5.2" fill="#fff" stroke="#ff0000" stroke-width="1.05"/>
<rect x="642.92" y="103.56" width="5.2" height="5.2" fill="#fff" stroke="#ff0000" stroke-width="1.05"/>
<rect x="652.6" y="93.48" width="5.2" height="5.2" fill="#fff" stroke="#ff0000" stroke-width="1.05"/>
<rect x="662.28" y="81" width="5.2" height="5.2" fill="#fff" stroke="#ff0000" stroke-width="1.05"/>
<circle cx="582.6" cy="148.4" r="2.75" fill="#fff" stroke="#0000ff" stroke-width="1.15"/>
<circle cx="611.64" cy="140" r="2.75" fill="#fff" stroke="#0000ff" stroke-width="1.15"/>
<circle cx="621.32" cy="133.76" r="2.75" fill="#fff" stroke="#0000ff" stroke-width="1.15"/>
<circle cx="631" cy="122.48" r="2.75" fill="#fff" stroke="#0000ff" stroke-width="1.15"/>
<circle cx="645.52" cy="122" r="2.75" fill="#fff" stroke="#0000ff" stroke-width="1.15"/>
<circle cx="655.2" cy="127.52" r="2.75" fill="#fff" stroke="#0000ff" stroke-width="1.15"/>
<circle cx="664.88" cy="121.28" r="2.75" fill="#fff" stroke="#0000ff" stroke-width="1.15"/>
<circle cx="645.52" cy="120.8" r="2.75" fill="#fff" stroke="#0000ff" stroke-width="1.15"/>
<path d="M642.77,121.2 A2.75,2.75 0 0 1 648.27,121.2 Z" fill="#0000ff"/>
</g>
<line x1="586.6" y1="10.2" x2="607.3" y2="10.2" stroke="#0000ff" stroke-width="1"/>
<line x1="586.6" y1="22.4" x2="607.3" y2="22.4" stroke="#ff0000" stroke-width="1"/>
<line x1="586.6" y1="35.6" x2="607.3" y2="35.6" stroke="#0000ff" stroke-width="1"/>
<line x1="586.6" y1="48.3" x2="607.3" y2="48.3" stroke="#ff0000" stroke-width="1"/>
<circle cx="596.7" cy="10.2" r="2.7" fill="none" stroke="#0000ff" stroke-width="1"/>
<rect x="594.1" y="19.8" width="5.2" height="5.2" fill="#fff" stroke="#ff0000" stroke-width="1"/>
<circle cx="596.7" cy="35.6" r="2.7" fill="#fff" stroke="#0000ff" stroke-width="1"/>
<path d="M594,36 A2.7,2.7 0 0 1 599.4,36 Z" fill="#0000ff"/>
<rect x="594.1" y="45.7" width="5.2" height="5.2" fill="#fff" stroke="#ff0000" stroke-width="1"/>
<rect x="594.1" y="45.7" width="5.2" height="2.6" fill="#ff3c3c"/>
<text transform="translate(618.3,12.93) scale(1,1.04)" font-size="9.2" fill="#000">WT</text>
<text transform="translate(618.3,25.83) scale(1,1.04)" font-size="9.2" fill="#000"><tspan font-style="italic">Hif1α</tspan><tspan font-style="italic" font-size="6.07" dy="-2.3">-/-</tspan></text>
<text transform="translate(618.3,38.71) scale(1,1.04)" font-size="9.15" fill="#000">WT+2-DG</text>
<text transform="translate(618.3,51.43) scale(1,1.04)" font-size="9.2" fill="#000"><tspan font-style="italic">Hif1α</tspan><tspan font-style="italic" font-size="6.07" dy="-2.3">-/-</tspan><tspan dy="2.3">+2-DG</tspan></text>
<line x1="582.6" y1="51.73" x2="582.6" y2="149.08" stroke="#1a1a1a" stroke-width="1.35"/>
<line x1="580.3" y1="148.4" x2="582.6" y2="148.4" stroke="#1a1a1a" stroke-width="1.35"/>
<text transform="translate(578,153.1) scale(1,1.04)" font-size="9.4" text-anchor="end" fill="#000">0</text>
<line x1="580.3" y1="124.4" x2="582.6" y2="124.4" stroke="#1a1a1a" stroke-width="1.35"/>
<text transform="translate(578,129.1) scale(1,1.04)" font-size="9.4" text-anchor="end" fill="#000">100</text>
<line x1="580.3" y1="100.4" x2="582.6" y2="100.4" stroke="#1a1a1a" stroke-width="1.35"/>
<text transform="translate(578,105.1) scale(1,1.04)" font-size="9.4" text-anchor="end" fill="#000">200</text>
<line x1="580.3" y1="76.4" x2="582.6" y2="76.4" stroke="#1a1a1a" stroke-width="1.35"/>
<text transform="translate(578,81.1) scale(1,1.04)" font-size="9.4" text-anchor="end" fill="#000">300</text>
<line x1="580.3" y1="52.4" x2="582.6" y2="52.4" stroke="#1a1a1a" stroke-width="1.35"/>
<text transform="translate(578,57.1) scale(1,1.04)" font-size="9.4" text-anchor="end" fill="#000">400</text>
<line x1="581.93" y1="148.4" x2="680.07" y2="148.4" stroke="#1a1a1a" stroke-width="1.35"/>
<line x1="582.6" y1="148.4" x2="582.6" y2="151.6" stroke="#1a1a1a" stroke-width="1.35"/>
<text transform="translate(582.6,163.6) scale(1,1.04)" font-size="9.4" text-anchor="middle" fill="#000">0</text>
<line x1="606.8" y1="148.4" x2="606.8" y2="151.6" stroke="#1a1a1a" stroke-width="1.35"/>
<text transform="translate(606.8,163.6) scale(1,1.04)" font-size="9.4" text-anchor="middle" fill="#000">5</text>
<line x1="631" y1="148.4" x2="631" y2="151.6" stroke="#1a1a1a" stroke-width="1.35"/>
<text transform="translate(631,163.6) scale(1,1.04)" font-size="9.4" text-anchor="middle" fill="#000">10</text>
<line x1="655.2" y1="148.4" x2="655.2" y2="151.6" stroke="#1a1a1a" stroke-width="1.35"/>
<text transform="translate(655.2,163.6) scale(1,1.04)" font-size="9.4" text-anchor="middle" fill="#000">15</text>
<line x1="679.4" y1="148.4" x2="679.4" y2="151.6" stroke="#1a1a1a" stroke-width="1.35"/>
<text transform="translate(679.4,163.6) scale(1,1.04)" font-size="9.4" text-anchor="middle" fill="#000">20</text>
<text transform="translate(85.2,345.89) scale(1,1.04)" font-size="9.1" text-anchor="middle" fill="#000">Time (days)</text>
<text transform="translate(5.6,270.7) rotate(-90) translate(0,3.41) scale(1,1.04)" font-size="9.15" text-anchor="middle" fill="#000">Tumor growth (mm3)</text>
<clipPath id="cp4"><rect x="36.9" y="178" width="123.1" height="138.9"/></clipPath><g clip-path="url(#cp4)">
<line x1="65.88" y1="306.93" x2="65.88" y2="305.49" stroke="#0000ff" stroke-width="1"/>
<line x1="62.88" y1="305.49" x2="68.88" y2="305.49" stroke="#0000ff" stroke-width="1"/>
<line x1="75.54" y1="287.72" x2="75.54" y2="282.91" stroke="#0000ff" stroke-width="1"/>
<line x1="72.54" y1="282.91" x2="78.54" y2="282.91" stroke="#0000ff" stroke-width="1"/>
<line x1="85.2" y1="278.71" x2="85.2" y2="273.3" stroke="#0000ff" stroke-width="1"/>
<line x1="82.2" y1="273.3" x2="88.2" y2="273.3" stroke="#0000ff" stroke-width="1"/>
<line x1="94.86" y1="287.72" x2="94.86" y2="284.11" stroke="#0000ff" stroke-width="1"/>
<line x1="91.86" y1="284.11" x2="97.86" y2="284.11" stroke="#0000ff" stroke-width="1"/>
<line x1="104.52" y1="294.56" x2="104.52" y2="291.56" stroke="#0000ff" stroke-width="1"/>
<line x1="101.52" y1="291.56" x2="107.52" y2="291.56" stroke="#0000ff" stroke-width="1"/>
<line x1="114.18" y1="296.96" x2="114.18" y2="294.32" stroke="#0000ff" stroke-width="1"/>
<line x1="111.18" y1="294.32" x2="117.18" y2="294.32" stroke="#0000ff" stroke-width="1"/>
<line x1="65.88" y1="306.57" x2="65.88" y2="305.13" stroke="#0000ff" stroke-width="1"/>
<line x1="62.88" y1="305.13" x2="68.88" y2="305.13" stroke="#0000ff" stroke-width="1"/>
<line x1="75.54" y1="286.27" x2="75.54" y2="280.27" stroke="#0000ff" stroke-width="1"/>
<line x1="72.54" y1="280.27" x2="78.54" y2="280.27" stroke="#0000ff" stroke-width="1"/>
<line x1="85.2" y1="276.67" x2="85.2" y2="270.06" stroke="#0000ff" stroke-width="1"/>
<line x1="82.2" y1="270.06" x2="88.2" y2="270.06" stroke="#0000ff" stroke-width="1"/>
<line x1="94.86" y1="283.27" x2="94.86" y2="279.07" stroke="#0000ff" stroke-width="1"/>
<line x1="91.86" y1="279.07" x2="97.86" y2="279.07" stroke="#0000ff" stroke-width="1"/>
<line x1="104.52" y1="291.08" x2="104.52" y2="287.72" stroke="#0000ff" stroke-width="1"/>
<line x1="101.52" y1="287.72" x2="107.52" y2="287.72" stroke="#0000ff" stroke-width="1"/>
<line x1="114.18" y1="295.88" x2="114.18" y2="292.88" stroke="#0000ff" stroke-width="1"/>
<line x1="111.18" y1="292.88" x2="117.18" y2="292.88" stroke="#0000ff" stroke-width="1"/>
<line x1="65.88" y1="310.17" x2="65.88" y2="308.97" stroke="#ff0000" stroke-width="1"/>
<line x1="62.88" y1="308.97" x2="68.88" y2="308.97" stroke="#ff0000" stroke-width="1"/>
<line x1="75.54" y1="298.88" x2="75.54" y2="296.24" stroke="#ff0000" stroke-width="1"/>
<line x1="72.54" y1="296.24" x2="78.54" y2="296.24" stroke="#ff0000" stroke-width="1"/>
<line x1="85.2" y1="293.48" x2="85.2" y2="290.12" stroke="#ff0000" stroke-width="1"/>
<line x1="82.2" y1="290.12" x2="88.2" y2="290.12" stroke="#ff0000" stroke-width="1"/>
<line x1="94.86" y1="273.06" x2="94.86" y2="268.26" stroke="#ff0000" stroke-width="1"/>
<line x1="91.86" y1="268.26" x2="97.86" y2="268.26" stroke="#ff0000" stroke-width="1"/>
<line x1="104.52" y1="262.73" x2="104.52" y2="256.73" stroke="#ff0000" stroke-width="1"/>
<line x1="101.52" y1="256.73" x2="107.52" y2="256.73" stroke="#ff0000" stroke-width="1"/>
<line x1="114.18" y1="244.72" x2="114.18" y2="236.91" stroke="#ff0000" stroke-width="1"/>
<line x1="111.18" y1="236.91" x2="117.18" y2="236.91" stroke="#ff0000" stroke-width="1"/>
<line x1="65.88" y1="308.97" x2="65.88" y2="307.77" stroke="#ff0000" stroke-width="1"/>
<line x1="62.88" y1="307.77" x2="68.88" y2="307.77" stroke="#ff0000" stroke-width="1"/>
<line x1="75.54" y1="295.76" x2="75.54" y2="292.76" stroke="#ff0000" stroke-width="1"/>
<line x1="72.54" y1="292.76" x2="78.54" y2="292.76" stroke="#ff0000" stroke-width="1"/>
<line x1="85.2" y1="291.56" x2="85.2" y2="287.96" stroke="#ff0000" stroke-width="1"/>
<line x1="82.2" y1="287.96" x2="88.2" y2="287.96" stroke="#ff0000" stroke-width="1"/>
<line x1="94.86" y1="288.08" x2="94.86" y2="283.87" stroke="#ff0000" stroke-width="1"/>
<line x1="91.86" y1="283.87" x2="97.86" y2="283.87" stroke="#ff0000" stroke-width="1"/>
<line x1="104.52" y1="289.52" x2="104.52" y2="284.71" stroke="#ff0000" stroke-width="1"/>
<line x1="101.52" y1="284.71" x2="107.52" y2="284.71" stroke="#ff0000" stroke-width="1"/>
<line x1="114.18" y1="285.19" x2="114.18" y2="279.43" stroke="#ff0000" stroke-width="1"/>
<line x1="111.18" y1="279.43" x2="117.18" y2="279.43" stroke="#ff0000" stroke-width="1"/>
<line x1="114.18" y1="285.19" x2="114.18" y2="290.96" stroke="#ff0000" stroke-width="1"/>
<line x1="111.18" y1="290.96" x2="117.18" y2="290.96" stroke="#ff0000" stroke-width="1"/>
<polyline points="36.9,316.9 65.88,310.17 75.54,298.88 85.2,293.48 94.86,273.06 104.52,262.73 114.18,244.72" fill="none" stroke="#ff0000" stroke-width="1.2"/>
<polyline points="36.9,316.9 65.88,308.97 75.54,295.76 85.2,291.56 94.86,288.08 104.52,289.52 114.18,285.19" fill="none" stroke="#ff0000" stroke-width="1.2"/>
<polyline points="36.9,316.9 65.88,306.93 75.54,287.72 85.2,278.71 94.86,287.72 104.52,294.56 114.18,296.96" fill="none" stroke="#0000ff" stroke-width="1.2"/>
<polyline points="36.9,316.9 65.88,306.57 75.54,286.27 85.2,276.67 94.86,283.27 104.52,291.08 114.18,295.88" fill="none" stroke="#0000ff" stroke-width="1.2"/>
<rect x="34.1" y="314.1" width="5.6" height="5.6" fill="#fff" stroke="#ff0000" stroke-width="1"/>
<rect x="34.1" y="314.1" width="2.8" height="5.6" fill="#ff3c3c"/>
<rect x="63.08" y="306.17" width="5.6" height="5.6" fill="#fff" stroke="#ff0000" stroke-width="1"/>
<rect x="63.08" y="306.17" width="2.8" height="5.6" fill="#ff3c3c"/>
<rect x="72.74" y="292.96" width="5.6" height="5.6" fill="#fff" stroke="#ff0000" stroke-width="1"/>
<rect x="72.74" y="292.96" width="2.8" height="5.6" fill="#ff3c3c"/>
<rect x="82.4" y="288.76" width="5.6" height="5.6" fill="#fff" stroke="#ff0000" stroke-width="1"/>
<rect x="82.4" y="288.76" width="2.8" height="5.6" fill="#ff3c3c"/>
<rect x="92.06" y="285.28" width="5.6" height="5.6" fill="#fff" stroke="#ff0000" stroke-width="1"/>
<rect x="92.06" y="285.28" width="2.8" height="5.6" fill="#ff3c3c"/>
<rect x="101.72" y="286.72" width="5.6" height="5.6" fill="#fff" stroke="#ff0000" stroke-width="1"/>
<rect x="101.72" y="286.72" width="2.8" height="5.6" fill="#ff3c3c"/>
<rect x="111.38" y="282.39" width="5.6" height="5.6" fill="#fff" stroke="#ff0000" stroke-width="1"/>
<rect x="111.38" y="282.39" width="2.8" height="5.6" fill="#ff3c3c"/>
<rect x="34.1" y="314.1" width="5.6" height="5.6" fill="#fff" stroke="#ff0000" stroke-width="1"/>
<rect x="63.08" y="307.37" width="5.6" height="5.6" fill="#fff" stroke="#ff0000" stroke-width="1"/>
<rect x="72.74" y="296.08" width="5.6" height="5.6" fill="#fff" stroke="#ff0000" stroke-width="1"/>
<rect x="82.4" y="290.68" width="5.6" height="5.6" fill="#fff" stroke="#ff0000" stroke-width="1"/>
<rect x="92.06" y="270.26" width="5.6" height="5.6" fill="#fff" stroke="#ff0000" stroke-width="1"/>
<rect x="101.72" y="259.93" width="5.6" height="5.6" fill="#fff" stroke="#ff0000" stroke-width="1"/>
<rect x="111.38" y="241.92" width="5.6" height="5.6" fill="#fff" stroke="#ff0000" stroke-width="1"/>
<circle cx="36.9" cy="316.9" r="3" fill="#fff" stroke="#0000ff" stroke-width="1"/>
<path d="M36.9,313.9 A3,3 0 0 0 36.9,319.9 Z" fill="#0000ff"/>
<circle cx="65.88" cy="306.57" r="3" fill="#fff" stroke="#0000ff" stroke-width="1"/>
<path d="M65.88,303.57 A3,3 0 0 0 65.88,309.57 Z" fill="#0000ff"/>
<circle cx="75.54" cy="286.27" r="3" fill="#fff" stroke="#0000ff" stroke-width="1"/>
<path d="M75.54,283.27 A3,3 0 0 0 75.54,289.27 Z" fill="#0000ff"/>
<circle cx="85.2" cy="276.67" r="3" fill="#fff" stroke="#0000ff" stroke-width="1"/>
<path d="M85.2,273.67 A3,3 0 0 0 85.2,279.67 Z" fill="#0000ff"/>
<circle cx="94.86" cy="283.27" r="3" fill="#fff" stroke="#0000ff" stroke-width="1"/>
<path d="M94.86,280.27 A3,3 0 0 0 94.86,286.27 Z" fill="#0000ff"/>
<circle cx="104.52" cy="291.08" r="3" fill="#fff" stroke="#0000ff" stroke-width="1"/>
<path d="M104.52,288.08 A3,3 0 0 0 104.52,294.08 Z" fill="#0000ff"/>
<circle cx="114.18" cy="295.88" r="3" fill="#fff" stroke="#0000ff" stroke-width="1"/>
<path d="M114.18,292.88 A3,3 0 0 0 114.18,298.88 Z" fill="#0000ff"/>
<circle cx="36.9" cy="316.9" r="3" fill="#fff" stroke="#0000ff" stroke-width="1"/>
<circle cx="65.88" cy="306.93" r="3" fill="#fff" stroke="#0000ff" stroke-width="1"/>
<circle cx="75.54" cy="287.72" r="3" fill="#fff" stroke="#0000ff" stroke-width="1"/>
<circle cx="85.2" cy="278.71" r="3" fill="#fff" stroke="#0000ff" stroke-width="1"/>
<circle cx="94.86" cy="287.72" r="3" fill="#fff" stroke="#0000ff" stroke-width="1"/>
<circle cx="104.52" cy="294.56" r="3" fill="#fff" stroke="#0000ff" stroke-width="1"/>
<circle cx="114.18" cy="296.96" r="3" fill="#fff" stroke="#0000ff" stroke-width="1"/>
</g>
<line x1="42.7" y1="193.7" x2="63.6" y2="193.7" stroke="#0000ff" stroke-width="1"/>
<line x1="42.7" y1="206.2" x2="63.6" y2="206.2" stroke="#ff0000" stroke-width="1"/>
<line x1="42.7" y1="218.9" x2="63.6" y2="218.9" stroke="#0000ff" stroke-width="1"/>
<line x1="42.7" y1="231.5" x2="63.6" y2="231.5" stroke="#ff0000" stroke-width="1"/>
<circle cx="53.3" cy="193.7" r="2.9" fill="#fff" stroke="#0000ff" stroke-width="1"/>
<rect x="50.6" y="203.5" width="5.4" height="5.4" fill="#fff" stroke="#ff0000" stroke-width="1"/>
<circle cx="53.3" cy="218.9" r="2.9" fill="#fff" stroke="#0000ff" stroke-width="1"/>
<path d="M53.3,216 A2.9,2.9 0 0 0 53.3,221.8 Z" fill="#0000ff"/>
<rect x="50.6" y="228.8" width="5.4" height="5.4" fill="#fff" stroke="#ff0000" stroke-width="1"/>
<rect x="50.6" y="228.8" width="2.7" height="5.4" fill="#ff3c3c"/>
<text transform="translate(74.4,196.96) scale(1,1.04)" font-size="9.3" fill="#000">WT</text>
<text transform="translate(74.4,209.66) scale(1,1.04)" font-size="9.3" fill="#000"><tspan font-style="italic">Hif1α</tspan><tspan font-style="italic" font-size="6.14" dy="-2.33">-/-</tspan></text>
<text transform="translate(74.4,222.66) scale(1,1.04)" font-size="9.3" fill="#000">WT+NaAc</text>
<text transform="translate(74.4,235.26) scale(1,1.04)" font-size="9.3" fill="#000"><tspan font-style="italic">Hif1α</tspan><tspan font-style="italic" font-size="6.14" dy="-2.33">-/-</tspan><tspan dy="2.33">+NaAc</tspan></text>
<polyline points="128.1,244.3 137.3,244.3 137.3,290.6 128.7,290.6" fill="none" stroke="#1a1a1a" stroke-width="1.1"/>
<polyline points="118,284.2 128.7,284.2 128.7,298.9 119,298.9" fill="none" stroke="#1a1a1a" stroke-width="1.1"/>
<text transform="translate(150.83,267.7) rotate(-90) translate(0,3.37)" font-size="9.4" text-anchor="middle" fill="#000" letter-spacing="1.4" font-weight="bold" font-family="DejaVu Sans, sans-serif">****</text>
<line x1="36.9" y1="220.14" x2="36.9" y2="317.57" stroke="#1a1a1a" stroke-width="1.35"/>
<line x1="33.7" y1="316.9" x2="36.9" y2="316.9" stroke="#1a1a1a" stroke-width="1.35"/>
<text transform="translate(32.3,320.4) scale(1,1.04)" font-size="9.4" text-anchor="end" fill="#000">0</text>
<line x1="33.7" y1="292.88" x2="36.9" y2="292.88" stroke="#1a1a1a" stroke-width="1.35"/>
<text transform="translate(32.3,296.38) scale(1,1.04)" font-size="9.4" text-anchor="end" fill="#000">200</text>
<line x1="33.7" y1="268.86" x2="36.9" y2="268.86" stroke="#1a1a1a" stroke-width="1.35"/>
<text transform="translate(32.3,272.36) scale(1,1.04)" font-size="9.4" text-anchor="end" fill="#000">400</text>
<line x1="33.7" y1="244.84" x2="36.9" y2="244.84" stroke="#1a1a1a" stroke-width="1.35"/>
<text transform="translate(32.3,248.34) scale(1,1.04)" font-size="9.4" text-anchor="end" fill="#000">600</text>
<line x1="33.7" y1="220.82" x2="36.9" y2="220.82" stroke="#1a1a1a" stroke-width="1.35"/>
<text transform="translate(32.3,224.32) scale(1,1.04)" font-size="9.4" text-anchor="end" fill="#000">800</text>
<line x1="36.23" y1="316.9" x2="134.18" y2="316.9" stroke="#1a1a1a" stroke-width="1.35"/>
<line x1="36.9" y1="316.9" x2="36.9" y2="320.1" stroke="#1a1a1a" stroke-width="1.35"/>
<text transform="translate(36.9,330.8) scale(1,1.04)" font-size="9.4" text-anchor="middle" fill="#000">0</text>
<line x1="61.05" y1="316.9" x2="61.05" y2="320.1" stroke="#1a1a1a" stroke-width="1.35"/>
<text transform="translate(61.05,330.8) scale(1,1.04)" font-size="9.4" text-anchor="middle" fill="#000">5</text>
<line x1="85.2" y1="316.9" x2="85.2" y2="320.1" stroke="#1a1a1a" stroke-width="1.35"/>
<text transform="translate(85.2,330.8) scale(1,1.04)" font-size="9.4" text-anchor="middle" fill="#000">10</text>
<line x1="109.35" y1="316.9" x2="109.35" y2="320.1" stroke="#1a1a1a" stroke-width="1.35"/>
<text transform="translate(109.35,330.8) scale(1,1.04)" font-size="9.4" text-anchor="middle" fill="#000">15</text>
<line x1="133.5" y1="316.9" x2="133.5" y2="320.1" stroke="#1a1a1a" stroke-width="1.35"/>
<text transform="translate(133.5,330.8) scale(1,1.04)" font-size="9.4" text-anchor="middle" fill="#000">20</text>
<text transform="translate(179.6,273.3) rotate(-90) translate(0,3.33) scale(1,1.04)" font-size="8.95" text-anchor="middle" fill="#000">Tumor weight (g)</text>
<circle cx="204.8" cy="218.6" r="2.9" fill="#fff" stroke="#0000ff" stroke-width="1"/>
<text transform="translate(214.9,222.1) scale(1,1.04)" font-size="9.4" fill="#000">WT</text>
<rect x="239.3" y="215.6" width="5.6" height="5.6" fill="#fff" stroke="#ff0000" stroke-width="1"/>
<text transform="translate(252.2,222.1) scale(1,1.04)" font-size="9.4" fill="#000"><tspan font-style="italic">Hif1α</tspan><tspan font-style="italic" font-size="6.2" dy="-2.35">-/-</tspan></text>
<line x1="214.3" y1="295.8" x2="226.9" y2="295.8" stroke="#0000ff" stroke-width="1"/>
<line x1="220.6" y1="288.9" x2="220.6" y2="302.5" stroke="#0000ff" stroke-width="1"/>
<line x1="217.5" y1="288.9" x2="223.7" y2="288.9" stroke="#0000ff" stroke-width="1"/>
<line x1="217.5" y1="302.5" x2="223.7" y2="302.5" stroke="#0000ff" stroke-width="1"/>
<circle cx="220.6" cy="270.5" r="2.8" fill="#fff" stroke="#0000ff" stroke-width="1"/>
<circle cx="220.6" cy="292.4" r="2.8" fill="#fff" stroke="#0000ff" stroke-width="1"/>
<circle cx="223.1" cy="304.5" r="2.8" fill="#fff" stroke="#0000ff" stroke-width="1"/>
<circle cx="217.7" cy="307.1" r="2.8" fill="#fff" stroke="#0000ff" stroke-width="1"/>
<line x1="232" y1="262.4" x2="244" y2="262.4" stroke="#ff0000" stroke-width="1"/>
<line x1="238" y1="256.7" x2="238" y2="268" stroke="#ff0000" stroke-width="1"/>
<line x1="235.25" y1="256.7" x2="240.75" y2="256.7" stroke="#ff0000" stroke-width="1"/>
<line x1="235.25" y1="268" x2="240.75" y2="268" stroke="#ff0000" stroke-width="1"/>
<rect x="235.4" y="241.9" width="5.2" height="5.2" fill="#fff" stroke="#ff0000" stroke-width="1"/>
<rect x="235.4" y="249.5" width="5.2" height="5.2" fill="#fff" stroke="#ff0000" stroke-width="1"/>
<rect x="235.4" y="255.7" width="5.2" height="5.2" fill="#fff" stroke="#ff0000" stroke-width="1"/>
<rect x="235.4" y="269.4" width="5.2" height="5.2" fill="#fff" stroke="#ff0000" stroke-width="1"/>
<rect x="235.4" y="283.8" width="5.2" height="5.2" fill="#fff" stroke="#ff0000" stroke-width="1"/>
<line x1="261.2" y1="297.6" x2="273.2" y2="297.6" stroke="#0000ff" stroke-width="1"/>
<line x1="267.2" y1="294.5" x2="267.2" y2="300.8" stroke="#0000ff" stroke-width="1"/>
<line x1="264.45" y1="294.5" x2="269.95" y2="294.5" stroke="#0000ff" stroke-width="1"/>
<line x1="264.45" y1="300.8" x2="269.95" y2="300.8" stroke="#0000ff" stroke-width="1"/>
<circle cx="264.1" cy="292.8" r="2.8" fill="#fff" stroke="#0000ff" stroke-width="1"/>
<circle cx="270.2" cy="292.8" r="2.8" fill="#fff" stroke="#0000ff" stroke-width="1"/>
<circle cx="264.1" cy="300.1" r="2.8" fill="#fff" stroke="#0000ff" stroke-width="1"/>
<circle cx="270.2" cy="300.1" r="2.8" fill="#fff" stroke="#0000ff" stroke-width="1"/>
<circle cx="267" cy="307.3" r="2.8" fill="#fff" stroke="#0000ff" stroke-width="1"/>
<line x1="278.8" y1="287" x2="290.8" y2="287" stroke="#ff0000" stroke-width="1"/>
<line x1="284.8" y1="283.5" x2="284.8" y2="290.5" stroke="#ff0000" stroke-width="1"/>
<line x1="282.05" y1="283.5" x2="287.55" y2="283.5" stroke="#ff0000" stroke-width="1"/>
<line x1="282.05" y1="290.5" x2="287.55" y2="290.5" stroke="#ff0000" stroke-width="1"/>
<rect x="281.8" y="301.6" width="5.2" height="5.2" fill="#fff" stroke="#ff0000" stroke-width="1"/>
<rect x="281.8" y="286.6" width="5.2" height="5.2" fill="#fff" stroke="#ff0000" stroke-width="1"/>
<rect x="278.7" y="283.6" width="5.2" height="5.2" fill="#fff" stroke="#ff0000" stroke-width="1"/>
<rect x="285.6" y="283.6" width="5.2" height="5.2" fill="#fff" stroke="#ff0000" stroke-width="1"/>
<rect x="282.5" y="280.7" width="5.2" height="5.2" fill="#fff" stroke="#ff0000" stroke-width="1"/>
<rect x="284.7" y="276.5" width="5.2" height="5.2" fill="#fff" stroke="#ff0000" stroke-width="1"/>
<line x1="220" y1="237" x2="238.6" y2="237" stroke="#1a1a1a" stroke-width="1.2"/>
<text transform="translate(229.5,237.5)" font-size="9.4" text-anchor="middle" fill="#000" letter-spacing="1.4" font-weight="bold" font-family="DejaVu Sans, sans-serif">**</text>
<line x1="208.9" y1="236.32" x2="208.9" y2="310.68" stroke="#1a1a1a" stroke-width="1.35"/>
<line x1="205.7" y1="310" x2="208.9" y2="310" stroke="#1a1a1a" stroke-width="1.35"/>
<text transform="translate(204.3,313.5) scale(1,1.04)" font-size="9.4" text-anchor="end" fill="#000">0.0</text>
<line x1="205.7" y1="295.4" x2="208.9" y2="295.4" stroke="#1a1a1a" stroke-width="1.35"/>
<text transform="translate(204.3,298.9) scale(1,1.04)" font-size="9.4" text-anchor="end" fill="#000">0.1</text>
<line x1="205.7" y1="280.8" x2="208.9" y2="280.8" stroke="#1a1a1a" stroke-width="1.35"/>
<text transform="translate(204.3,284.3) scale(1,1.04)" font-size="9.4" text-anchor="end" fill="#000">0.2</text>
<line x1="205.7" y1="266.2" x2="208.9" y2="266.2" stroke="#1a1a1a" stroke-width="1.35"/>
<text transform="translate(204.3,269.7) scale(1,1.04)" font-size="9.4" text-anchor="end" fill="#000">0.3</text>
<line x1="205.7" y1="251.6" x2="208.9" y2="251.6" stroke="#1a1a1a" stroke-width="1.35"/>
<text transform="translate(204.3,255.1) scale(1,1.04)" font-size="9.4" text-anchor="end" fill="#000">0.4</text>
<line x1="205.7" y1="237" x2="208.9" y2="237" stroke="#1a1a1a" stroke-width="1.35"/>
<text transform="translate(204.3,240.5) scale(1,1.04)" font-size="9.4" text-anchor="end" fill="#000">0.5</text>
<line x1="208.22" y1="310" x2="297.18" y2="310" stroke="#1a1a1a" stroke-width="1.35"/>
<line x1="229.5" y1="310" x2="229.5" y2="313.2" stroke="#1a1a1a" stroke-width="1.35"/>
<text transform="translate(229.5,322.8) scale(1,1.04)" font-size="9.4" text-anchor="middle" fill="#000" textLength="28.3" lengthAdjust="spacingAndGlyphs">Control</text>
<line x1="275.6" y1="310" x2="275.6" y2="313.2" stroke="#1a1a1a" stroke-width="1.35"/>
<text transform="translate(275.6,322.8) scale(1,1.04)" font-size="9.4" text-anchor="middle" fill="#000">NaAc</text>
<rect x="376.3" y="214.8" width="56.1" height="56.4" fill="#fff" stroke="#cdcdcd" stroke-width="0.7"/>
<line x1="376.3" y1="214.8" x2="432.4" y2="214.8" stroke="#c4c4c4" stroke-width="0.7"/>
<line x1="376.3" y1="214.8" x2="376.3" y2="271.2" stroke="#4a4a4a" stroke-width="0.85" stroke-dasharray="0.55 0.8"/>
<line x1="376.3" y1="271.2" x2="432.4" y2="271.2" stroke="#3c3c3c" stroke-width="1" stroke-dasharray="0.55 0.8"/>
<rect x="375.3" y="214.2" width="1.6" height="1.2" fill="#222"/>
<text transform="translate(371.3,216.8) rotate(-32)" font-size="2.5" fill="#5a5a5a">10<tspan font-size="1.8" dy="-0.9">6</tspan></text>
<rect x="375.3" y="223.6" width="1.6" height="1.2" fill="#222"/>
<text transform="translate(371.3,226.2) rotate(-32)" font-size="2.5" fill="#5a5a5a">10<tspan font-size="1.8" dy="-0.9">5</tspan></text>
<rect x="375.3" y="233" width="1.6" height="1.2" fill="#222"/>
<text transform="translate(371.3,235.6) rotate(-32)" font-size="2.5" fill="#5a5a5a">10<tspan font-size="1.8" dy="-0.9">4</tspan></text>
<rect x="375.3" y="242.4" width="1.6" height="1.2" fill="#222"/>
<text transform="translate(371.3,245) rotate(-32)" font-size="2.5" fill="#5a5a5a">10<tspan font-size="1.8" dy="-0.9">3</tspan></text>
<rect x="375.3" y="251.8" width="1.6" height="1.2" fill="#222"/>
<text transform="translate(371.3,254.4) rotate(-32)" font-size="2.5" fill="#5a5a5a">10<tspan font-size="1.8" dy="-0.9">2</tspan></text>
<rect x="375.3" y="261.2" width="1.6" height="1.2" fill="#222"/>
<text transform="translate(371.3,263.8) rotate(-32)" font-size="2.5" fill="#5a5a5a">10<tspan font-size="1.8" dy="-0.9">1</tspan></text>
<rect x="375.3" y="270.6" width="1.6" height="1.2" fill="#222"/>
<text transform="translate(371.3,273.2) rotate(-32)" font-size="2.5" fill="#5a5a5a">10<tspan font-size="1.8" dy="-0.9">0</tspan></text>
<rect x="375.7" y="270.6" width="1.2" height="1.7" fill="#222"/>
<rect x="385.95" y="270.6" width="1.2" height="1.7" fill="#222"/>
<text transform="translate(383.35,276.4) rotate(-32)" font-size="2.5" fill="#5a5a5a">10<tspan font-size="1.8" dy="-0.9">1</tspan></text>
<rect x="396.2" y="270.6" width="1.2" height="1.7" fill="#222"/>
<text transform="translate(393.6,276.4) rotate(-32)" font-size="2.5" fill="#5a5a5a">10<tspan font-size="1.8" dy="-0.9">2</tspan></text>
<rect x="406.45" y="270.6" width="1.2" height="1.7" fill="#222"/>
<text transform="translate(403.85,276.4) rotate(-32)" font-size="2.5" fill="#5a5a5a">10<tspan font-size="1.8" dy="-0.9">3</tspan></text>
<rect x="416.7" y="270.6" width="1.2" height="1.7" fill="#222"/>
<text transform="translate(414.1,276.4) rotate(-32)" font-size="2.5" fill="#5a5a5a">10<tspan font-size="1.8" dy="-0.9">4</tspan></text>
<rect x="426.95" y="270.6" width="1.2" height="1.7" fill="#222"/>
<text transform="translate(424.35,276.4) rotate(-32)" font-size="2.5" fill="#5a5a5a">10<tspan font-size="1.8" dy="-0.9">5</tspan></text>
<path d="M413.26 239.18h.7M413.68 237.12h.7M415.54 237.55h.7M413.38 236.31h.7M417.13 234.11h.7M415.24 235.11h.7M414.41 237h.7M414.32 232.96h.7M415.39 232.07h.7M413.92 234.8h.7M416.08 231.89h.7M417.23 239.64h.7M414.49 239.97h.7M414.91 233.99h.7M415.92 232.97h.7M415.86 234.11h.7M416.57 236.07h.7M414.31 234.82h.7M415.25 237.52h.7M414.24 237.13h.7M413.12 233.19h.7M415.61 238.17h.7M413.7 235.82h.7M416.81 234.09h.7M413.43 238.34h.7M416.49 234.66h.7M414.59 233.57h.7M415.07 235.44h.7M415.85 238.18h.7M414.46 234.69h.7M414.26 238.52h.7M414.63 234.18h.7M414.85 232.91h.7M415.56 234.15h.7M413.79 233.26h.7M414.56 237.95h.7M413.93 235.69h.7M414.62 234.07h.7M415.75 237.15h.7M415.46 233.94h.7M415.17 234.1h.7M413.9 235.01h.7M415.53 234.99h.7M415.34 233.55h.7M417.05 233.96h.7M413.75 232.56h.7M417.49 235.41h.7M414.93 236.15h.7M417.36 236.96h.7M415.9 233.59h.7M416.23 235.55h.7M416.27 237.03h.7M413.74 236.53h.7M417.29 235.42h.7M417.1 234.39h.7M415.79 236.54h.7M417.29 234.05h.7M414.77 231.14h.7M412.81 237.31h.7M415.61 233.74h.7M413.03 236.29h.7M414.95 234.5h.7M413.81 233.45h.7M415.4 236.16h.7M416.91 234.74h.7M414.79 237.2h.7M414.94 234.7h.7M415.59 238.13h.7M417.65 236.06h.7" stroke="#5a68f2" stroke-width="0.7" stroke-opacity="0.55" fill="none"/>
<path d="M415.36 235.74h.7M415.54 240.84h.7M413.06 233.54h.7M413.22 230.4h.7M408.63 236.02h.7M416.67 235.83h.7M416.02 233.42h.7M417.28 238.74h.7M412.42 239.11h.7M415.89 235.81h.7M415.96 228.33h.7M417.31 237.05h.7M418.74 235.28h.7M421.61 234.08h.7M417.03 235.35h.7M411.69 234.04h.7M413.98 242.24h.7M416.99 234.95h.7M418.67 234.95h.7M416.19 232.83h.7M413.16 229.15h.7M410.03 235.9h.7M413.43 242.95h.7M414.69 237.34h.7M416.23 233.4h.7M414.85 234.66h.7M416.05 238.24h.7M414.11 236.6h.7M415.03 231.23h.7M411.65 235.63h.7M415.64 241.37h.7M414.39 239.4h.7M419.18 232.1h.7M415.85 237.04h.7M415.79 234.28h.7M417.63 229.54h.7M414.71 236.34h.7M417.35 238.96h.7M412.9 231.69h.7M418.44 238.41h.7M414.43 232.16h.7" stroke="#9098f5" stroke-width="0.7" stroke-opacity="0.55" fill="none"/>
<path d="M417.91 237.11h.7M415.99 238.19h.7M411.39 257.99h.7M410.2 243.72h.7M413.45 244.24h.7M416.6 239h.7M413.46 250.4h.7M411.18 243.61h.7M411.73 246.6h.7M416.04 245.55h.7M416.45 238.1h.7M417.63 238.06h.7M414.32 237.52h.7M418.11 243.57h.7M412.91 241.59h.7M417.21 246.84h.7M416.47 241.07h.7M413 249.5h.7M413.73 237.06h.7M414.83 241.73h.7M418.43 242.24h.7M416.37 239.67h.7M416.73 237.18h.7M413.11 242.51h.7M416.75 242.84h.7M412.32 240.52h.7M415.05 243.9h.7M412.6 242.1h.7M415.35 238h.7M411.78 239.55h.7M415.67 237.23h.7M414.8 244.26h.7M417.34 238.18h.7M416.55 240.72h.7M413.54 237.93h.7M414.43 237.04h.7M408.68 250.66h.7M414.63 245.84h.7M415.28 240.95h.7M412.58 237.44h.7M417.2 237.56h.7M411.86 243.31h.7M409.09 249.77h.7M414.78 240.5h.7M412.68 237.99h.7M413.22 243.63h.7M415.29 236.8h.7M414.49 241.1h.7M412.71 242.69h.7M416.78 240.67h.7M418.9 237.34h.7M416.61 238.91h.7M414.51 242.98h.7M412.69 243.88h.7M420.24 238.09h.7M415.94 245.35h.7M416.05 250.96h.7M413.87 240.76h.7M414.02 236.91h.7M410.72 239.79h.7" stroke="#a9aef7" stroke-width="0.7" stroke-opacity="0.55" fill="none"/>
<rect x="405.3" y="220.4" width="19.1" height="15.1" fill="none" stroke="#707070" stroke-width="0.7"/>
<text transform="translate(377.8,224.67) scale(1,1.04)" font-size="6.9" fill="#000">44.7</text>
<rect x="442.5" y="214.8" width="56.2" height="56.4" fill="#fff" stroke="#cdcdcd" stroke-width="0.7"/>
<line x1="442.5" y1="214.8" x2="498.7" y2="214.8" stroke="#c4c4c4" stroke-width="0.7"/>
<line x1="442.5" y1="214.8" x2="442.5" y2="271.2" stroke="#4a4a4a" stroke-width="0.85" stroke-dasharray="0.55 0.8"/>
<line x1="442.5" y1="271.2" x2="498.7" y2="271.2" stroke="#3c3c3c" stroke-width="1" stroke-dasharray="0.55 0.8"/>
<rect x="441.5" y="214.2" width="1.6" height="1.2" fill="#222"/>
<text transform="translate(437.5,216.8) rotate(-32)" font-size="2.5" fill="#5a5a5a">10<tspan font-size="1.8" dy="-0.9">6</tspan></text>
<rect x="441.5" y="223.6" width="1.6" height="1.2" fill="#222"/>
<text transform="translate(437.5,226.2) rotate(-32)" font-size="2.5" fill="#5a5a5a">10<tspan font-size="1.8" dy="-0.9">5</tspan></text>
<rect x="441.5" y="233" width="1.6" height="1.2" fill="#222"/>
<text transform="translate(437.5,235.6) rotate(-32)" font-size="2.5" fill="#5a5a5a">10<tspan font-size="1.8" dy="-0.9">4</tspan></text>
<rect x="441.5" y="242.4" width="1.6" height="1.2" fill="#222"/>
<text transform="translate(437.5,245) rotate(-32)" font-size="2.5" fill="#5a5a5a">10<tspan font-size="1.8" dy="-0.9">3</tspan></text>
<rect x="441.5" y="251.8" width="1.6" height="1.2" fill="#222"/>
<text transform="translate(437.5,254.4) rotate(-32)" font-size="2.5" fill="#5a5a5a">10<tspan font-size="1.8" dy="-0.9">2</tspan></text>
<rect x="441.5" y="261.2" width="1.6" height="1.2" fill="#222"/>
<text transform="translate(437.5,263.8) rotate(-32)" font-size="2.5" fill="#5a5a5a">10<tspan font-size="1.8" dy="-0.9">1</tspan></text>
<rect x="441.5" y="270.6" width="1.6" height="1.2" fill="#222"/>
<text transform="translate(437.5,273.2) rotate(-32)" font-size="2.5" fill="#5a5a5a">10<tspan font-size="1.8" dy="-0.9">0</tspan></text>
<rect x="441.9" y="270.6" width="1.2" height="1.7" fill="#222"/>
<rect x="452.15" y="270.6" width="1.2" height="1.7" fill="#222"/>
<text transform="translate(449.55,276.4) rotate(-32)" font-size="2.5" fill="#5a5a5a">10<tspan font-size="1.8" dy="-0.9">1</tspan></text>
<rect x="462.4" y="270.6" width="1.2" height="1.7" fill="#222"/>
<text transform="translate(459.8,276.4) rotate(-32)" font-size="2.5" fill="#5a5a5a">10<tspan font-size="1.8" dy="-0.9">2</tspan></text>
<rect x="472.65" y="270.6" width="1.2" height="1.7" fill="#222"/>
<text transform="translate(470.05,276.4) rotate(-32)" font-size="2.5" fill="#5a5a5a">10<tspan font-size="1.8" dy="-0.9">3</tspan></text>
<rect x="482.9" y="270.6" width="1.2" height="1.7" fill="#222"/>
<text transform="translate(480.3,276.4) rotate(-32)" font-size="2.5" fill="#5a5a5a">10<tspan font-size="1.8" dy="-0.9">4</tspan></text>
<rect x="493.15" y="270.6" width="1.2" height="1.7" fill="#222"/>
<text transform="translate(490.55,276.4) rotate(-32)" font-size="2.5" fill="#5a5a5a">10<tspan font-size="1.8" dy="-0.9">5</tspan></text>
<path d="M482.77 231.03h.7M476.75 231.28h.7M484.28 239.29h.7M478.24 242.23h.7M477.61 236.68h.7M477.63 227.98h.7M480.45 232.41h.7M484.56 240.3h.7M482.5 234.97h.7M479.01 231.28h.7M479.01 230.79h.7M480.74 233.64h.7M479.97 233.25h.7M478.99 231.04h.7" stroke="#9098f5" stroke-width="0.7" stroke-opacity="0.45" fill="none"/>
<path d="M480.49 244.92h.7M480.67 237.11h.7M479.11 245.35h.7M474.93 252.06h.7M477.4 239.84h.7M481.74 240.1h.7M480.49 255.36h.7M482.86 236.41h.7M484.93 238.21h.7M478.51 241.21h.7M484.81 240.05h.7M483.99 237.13h.7M478.97 238.18h.7M478.68 246.48h.7M479.97 243.19h.7M481.5 242.78h.7M481.3 245.66h.7M478.91 238.85h.7M480.12 241.06h.7M482.17 253.21h.7M480.61 237.54h.7" stroke="#a9aef7" stroke-width="0.7" stroke-opacity="0.45" fill="none"/>
<path d="M483.59 236.18h.7M479.87 235.82h.7M480.86 237.95h.7M481.24 234.6h.7M481.33 235.54h.7M482.33 230.42h.7M480.69 234.91h.7M481.95 233.44h.7M481.71 240.69h.7M483.37 233.82h.7M483.39 235.36h.7M478.96 239.12h.7M483.22 232.77h.7M477.39 238.42h.7M481.4 235.29h.7M481.19 237.8h.7M480.18 231.8h.7M480.49 237.35h.7M480.41 236.32h.7M480.42 233.73h.7M480.9 236.49h.7M478.59 239.29h.7M481.88 232.12h.7M481.63 238.45h.7M482.97 240h.7" stroke="#5a68f2" stroke-width="0.7" stroke-opacity="0.45" fill="none"/>
<rect x="471.2" y="220.4" width="19.6" height="15.1" fill="none" stroke="#707070" stroke-width="0.7"/>
<text transform="translate(444,224.67) scale(1,1.04)" font-size="6.9" fill="#000">37.9</text>
<rect x="376.3" y="281.5" width="56.1" height="55.7" fill="#fff" stroke="#cdcdcd" stroke-width="0.7"/>
<line x1="376.3" y1="281.5" x2="432.4" y2="281.5" stroke="#c4c4c4" stroke-width="0.7"/>
<line x1="376.3" y1="281.5" x2="376.3" y2="337.2" stroke="#4a4a4a" stroke-width="0.85" stroke-dasharray="0.55 0.8"/>
<line x1="376.3" y1="337.2" x2="432.4" y2="337.2" stroke="#3c3c3c" stroke-width="1" stroke-dasharray="0.55 0.8"/>
<rect x="375.3" y="280.9" width="1.6" height="1.2" fill="#222"/>
<text transform="translate(371.3,283.5) rotate(-32)" font-size="2.5" fill="#5a5a5a">10<tspan font-size="1.8" dy="-0.9">6</tspan></text>
<rect x="375.3" y="290.18" width="1.6" height="1.2" fill="#222"/>
<text transform="translate(371.3,292.78) rotate(-32)" font-size="2.5" fill="#5a5a5a">10<tspan font-size="1.8" dy="-0.9">5</tspan></text>
<rect x="375.3" y="299.47" width="1.6" height="1.2" fill="#222"/>
<text transform="translate(371.3,302.07) rotate(-32)" font-size="2.5" fill="#5a5a5a">10<tspan font-size="1.8" dy="-0.9">4</tspan></text>
<rect x="375.3" y="308.75" width="1.6" height="1.2" fill="#222"/>
<text transform="translate(371.3,311.35) rotate(-32)" font-size="2.5" fill="#5a5a5a">10<tspan font-size="1.8" dy="-0.9">3</tspan></text>
<rect x="375.3" y="318.03" width="1.6" height="1.2" fill="#222"/>
<text transform="translate(371.3,320.63) rotate(-32)" font-size="2.5" fill="#5a5a5a">10<tspan font-size="1.8" dy="-0.9">2</tspan></text>
<rect x="375.3" y="327.32" width="1.6" height="1.2" fill="#222"/>
<text transform="translate(371.3,329.92) rotate(-32)" font-size="2.5" fill="#5a5a5a">10<tspan font-size="1.8" dy="-0.9">1</tspan></text>
<rect x="375.3" y="336.6" width="1.6" height="1.2" fill="#222"/>
<text transform="translate(371.3,339.2) rotate(-32)" font-size="2.5" fill="#5a5a5a">10<tspan font-size="1.8" dy="-0.9">0</tspan></text>
<rect x="375.7" y="336.6" width="1.2" height="1.7" fill="#222"/>
<rect x="385.95" y="336.6" width="1.2" height="1.7" fill="#222"/>
<text transform="translate(383.35,342.4) rotate(-32)" font-size="2.5" fill="#5a5a5a">10<tspan font-size="1.8" dy="-0.9">1</tspan></text>
<rect x="396.2" y="336.6" width="1.2" height="1.7" fill="#222"/>
<text transform="translate(393.6,342.4) rotate(-32)" font-size="2.5" fill="#5a5a5a">10<tspan font-size="1.8" dy="-0.9">2</tspan></text>
<rect x="406.45" y="336.6" width="1.2" height="1.7" fill="#222"/>
<text transform="translate(403.85,342.4) rotate(-32)" font-size="2.5" fill="#5a5a5a">10<tspan font-size="1.8" dy="-0.9">3</tspan></text>
<rect x="416.7" y="336.6" width="1.2" height="1.7" fill="#222"/>
<text transform="translate(414.1,342.4) rotate(-32)" font-size="2.5" fill="#5a5a5a">10<tspan font-size="1.8" dy="-0.9">4</tspan></text>
<rect x="426.95" y="336.6" width="1.2" height="1.7" fill="#222"/>
<text transform="translate(424.35,342.4) rotate(-32)" font-size="2.5" fill="#5a5a5a">10<tspan font-size="1.8" dy="-0.9">5</tspan></text>
<path d="M414.54 303.62h.7M416.36 307.78h.7M407.57 307.25h.7M418.89 303.8h.7M421.57 298.23h.7M414.44 308.28h.7M420.9 313.79h.7M414.75 306.34h.7M414.95 300.77h.7M416.57 304.32h.7M415.78 307.85h.7M414.43 305.22h.7M418.59 304.29h.7M414.68 316.04h.7M413.88 310.26h.7M414.41 303.65h.7M415.6 304.89h.7M407.97 310.4h.7M418.96 299.81h.7M416.13 311.46h.7M414.18 304.38h.7M412.92 300.06h.7M417.18 315.07h.7M410.68 310.79h.7M415.89 309.95h.7M420.52 304.18h.7M411.91 306.22h.7M414.38 308.94h.7M409.34 304.45h.7M416.7 304.21h.7M414.93 307.74h.7M411.42 305.29h.7M413.79 311.83h.7M422.32 301.64h.7M417.28 308.54h.7M414.3 306.9h.7M412.75 303.46h.7M417.31 307.88h.7M415.9 303.66h.7M419.3 304.3h.7M416.57 305.66h.7M418.47 298.51h.7M420.39 306.25h.7M422.17 299.89h.7M413.23 307.16h.7M419.53 301.37h.7M415.81 303.96h.7M410.52 312.24h.7M410.67 311.81h.7M418.51 296.26h.7M419.6 301.91h.7M410.99 306.22h.7M407.98 313.56h.7M417.98 299.33h.7M414.79 312.41h.7M421.18 300.61h.7M417.08 310.3h.7M413.07 306.15h.7M416.13 310.72h.7M415.63 306.6h.7M408.18 295h.7M413.65 308.08h.7M405.5 309.83h.7M418.45 304.24h.7M410.84 310.79h.7M417.78 312.43h.7M421.27 306.12h.7M418.93 300.03h.7M413.61 302.48h.7M411.31 305.9h.7M408.82 312.61h.7M413.67 309.4h.7M416.02 304.97h.7M415.57 305.64h.7M421.34 303h.7M420.74 306.06h.7M412.98 301.19h.7M417.5 312.53h.7M412.28 314.88h.7M422.4 301.11h.7M418.27 310.38h.7M419.86 309.92h.7M414.28 299.36h.7M417.3 302.32h.7M419.62 296.49h.7M412.7 307.18h.7M419.81 303.83h.7M419.46 304h.7M418.49 301.21h.7M412.55 303.7h.7M417.61 305.12h.7M418.14 306.03h.7M416.96 303.97h.7M415.51 303.52h.7M410.93 303.45h.7M414.04 305.61h.7M410.88 311.74h.7M406.8 305.62h.7M414.98 307.2h.7M411.78 307.41h.7M417.12 304.62h.7M418.22 307.53h.7M415.18 307.09h.7M422.4 305.26h.7M417.73 310.22h.7M414.51 302.1h.7M414.5 305.5h.7M415.42 310.44h.7M412.46 309.15h.7M412.7 304.29h.7M413.73 303.57h.7M412.82 312.67h.7M413.24 309.79h.7M413.04 309.39h.7M413.55 310.46h.7M414.48 306.62h.7M414.18 306.22h.7M415.26 302.16h.7" stroke="#9098f5" stroke-width="0.7" stroke-opacity="0.6" fill="none"/>
<path d="M414.32 308.02h.7M413.94 308.02h.7M414.62 307.3h.7M417.57 309.35h.7M414.67 306.74h.7M416.27 306.95h.7M414.2 305.75h.7M416.24 309.11h.7M414.93 301.23h.7M411.16 303.05h.7M414.51 308.43h.7M413.8 304.68h.7M415.71 314.54h.7M416.32 306.12h.7M418.08 301.32h.7M416.13 304.04h.7M413.7 305.71h.7M418.81 302.27h.7M413.34 303.96h.7M414.72 305.49h.7M414.52 308.25h.7M414.83 308.09h.7M415.8 304.81h.7M412.56 308.44h.7M415.37 306.98h.7M413.27 303.24h.7M415.83 305.48h.7M413.95 307.49h.7M412.04 303.12h.7M413.66 304.98h.7M415.48 305.94h.7M415.65 305.55h.7M414.08 305.52h.7M414.53 309.91h.7M416.42 307.52h.7M414.57 306.82h.7M413.74 305.3h.7M414.31 300.07h.7M413.79 307.68h.7M416.84 306.89h.7M411.56 305.07h.7M415.09 303.58h.7M415.49 305.14h.7M415.51 307.01h.7M418.08 302.64h.7M415.3 306.91h.7M416.92 308.45h.7M413.95 307.09h.7M413.8 307.05h.7M414.64 301.95h.7M414.14 309.19h.7M416.88 310h.7M413.78 302.78h.7M415.61 304.62h.7M414.96 308.25h.7M414.13 304.43h.7M417.05 309.43h.7M413.82 306.24h.7M414.77 310.52h.7M412.84 306.72h.7M415.8 305.13h.7M416.92 310.35h.7M411.75 304.25h.7M415.98 304.18h.7M414.65 306.29h.7M410.38 305.43h.7M412.21 307.25h.7M414.5 307.58h.7M414.97 308.74h.7M415.03 302.14h.7M413.58 310.18h.7M418.56 307.61h.7M414.29 304.65h.7M413.04 307.04h.7M412.71 308.39h.7M412.83 307.23h.7M415.63 305.39h.7M412.91 305.08h.7M416.16 306.14h.7M412.99 308.11h.7M413.5 303.77h.7M414.21 308.03h.7M415.75 308.8h.7M415.24 307.13h.7M418.73 302.8h.7M413.42 306.41h.7M415.96 304.02h.7M414.08 304.97h.7M416.36 305.38h.7M412.81 306.72h.7M414.45 304.42h.7M416.58 306.83h.7M416.47 306.32h.7M412.95 304.64h.7M413.41 304.55h.7M413.71 305.32h.7M410.3 308.99h.7M417.06 304.42h.7M415.92 301.86h.7M417.43 305.6h.7M413.09 304.53h.7M417.07 307.9h.7M411.67 307.14h.7M412.29 307.14h.7M415.02 303.24h.7M410.54 309.1h.7M411.79 304.83h.7M416.54 306.36h.7M413.98 310.92h.7M415.33 302.55h.7M414.76 304.12h.7M415.73 308.78h.7M413.76 305.07h.7M410.94 310.15h.7M415.86 308.17h.7M412.63 307.73h.7M414.03 312.03h.7M413.61 302.72h.7M417.39 305.63h.7M415.18 305.81h.7M411.97 303.49h.7M417.64 309.01h.7M417.55 307.59h.7M416.65 308.26h.7M420.49 303.67h.7M412.97 303.44h.7M414.26 310.12h.7M414.35 303.44h.7M414.09 304.71h.7M413.5 305.71h.7M411.96 307.19h.7M412.86 311.02h.7M413.57 306.01h.7M410.52 302.81h.7M412.33 308.52h.7M414.02 304.78h.7M414.55 304.68h.7M412.37 310.42h.7M416.5 303.48h.7M412.37 301.36h.7M415.36 303.05h.7M415.77 303.38h.7M414.77 308.28h.7M414.66 304.23h.7M413.05 303.12h.7M417.96 304.92h.7M414.75 303.13h.7M417.76 303.04h.7M412.71 306.7h.7M412.36 309.75h.7M413.44 306.47h.7M413.85 306.63h.7M412.78 306.67h.7M413.88 304.74h.7" stroke="#5a68f2" stroke-width="0.7" stroke-opacity="0.6" fill="none"/>
<path d="M415.51 311.63h.7M409.55 313.51h.7M414.11 314.02h.7M414.21 317.3h.7M415.74 312.54h.7M417.09 307.57h.7M414.77 312.67h.7M418.37 308.65h.7M412.38 313.54h.7M417.74 309.51h.7M413.38 316.16h.7M409.88 318.91h.7M415.12 307.06h.7M415.14 311.99h.7M414.45 306.73h.7M417.37 319.51h.7M416.17 312.18h.7M416.86 311.25h.7M412.77 313.33h.7M413.55 309.48h.7M416.35 308.09h.7M411.07 311.72h.7M415.39 319.86h.7M416.84 307.23h.7M415.15 306.86h.7M415.24 312.72h.7M409.77 321.12h.7M412.93 308.52h.7M412.3 317.6h.7M414.53 307.28h.7M414.26 306.88h.7M418.34 307.71h.7M413.46 312.72h.7M414.82 310.25h.7M410.83 314.32h.7M410.2 309.58h.7M414.04 311.16h.7M411.87 309.09h.7M409.69 309.97h.7M413.55 309.56h.7M412.64 307.46h.7M410.69 313.48h.7M412.48 309.5h.7M418.58 308.44h.7M414.46 314.63h.7M410.78 319.63h.7M414.81 312.9h.7M416.72 309.96h.7M410.15 306.72h.7M414.05 308.87h.7M413.09 307.09h.7M414.69 310.43h.7M411.76 307.36h.7M415.37 310.38h.7M414.07 317.45h.7M416.43 306.74h.7M409.79 314.13h.7M415.79 311.16h.7M412.37 312.7h.7M410.96 317.67h.7M409.51 314.18h.7M411.45 312.68h.7M415.66 306.68h.7M413.76 318.93h.7M414.62 309.02h.7M409.34 316.62h.7M411.38 313.05h.7M410.67 317.83h.7M412.29 312.9h.7M417.46 312.05h.7M412.69 314.52h.7M411.89 314.12h.7M416.96 307.85h.7M417.17 312.61h.7M412.54 307.21h.7M416.25 310.46h.7M414.87 310.59h.7M413.92 311.1h.7M413.33 309.93h.7M415.08 316.36h.7M412.09 316.34h.7M416.74 317.79h.7M415.89 313.91h.7M415.22 307.52h.7M418.48 307.65h.7M410.49 314.8h.7M414.74 307.71h.7M417.16 310.68h.7M421.07 308.72h.7M415.97 310.4h.7M416.14 314.59h.7M409.82 310.6h.7M415.43 310.6h.7M412.49 306.93h.7M411.42 317.27h.7M411.13 307.3h.7M415.65 307.24h.7M410.71 307.91h.7M413.32 317.8h.7M412.43 309.85h.7M413.62 307.66h.7M412.1 311.08h.7M413.81 307.39h.7M413.34 310.73h.7M413.15 308.06h.7M413.74 312.97h.7M412.42 313.81h.7M411.61 314.65h.7M410.84 317.46h.7M414.09 314.64h.7M416.16 312.63h.7M414.25 311.3h.7M417.73 308.76h.7M413.64 315.49h.7M414.02 310.16h.7M415.86 307.95h.7M411.68 312.8h.7M413.12 313.61h.7M415.95 310.63h.7M411.17 307.99h.7M415.44 308.83h.7M414.82 311.19h.7M415.28 313.3h.7M409.53 313.03h.7M415.27 308.14h.7M416.35 308.77h.7M414.45 310.08h.7M415.9 315.84h.7M414.31 307.15h.7M415.05 310.39h.7M406.02 315.18h.7M418.12 307.72h.7M415.72 315.3h.7M413.49 314.73h.7M411.43 310.6h.7M409.73 309.38h.7M415.13 307.68h.7M413.24 314.07h.7M415.58 316.07h.7M417.57 315.27h.7M413.45 314.91h.7M412.24 314.1h.7M410.63 308.85h.7M414.66 312.78h.7M412.78 314.92h.7M415.32 308.4h.7M413.71 311.04h.7M419.74 309.71h.7" stroke="#a9aef7" stroke-width="0.7" stroke-opacity="0.6" fill="none"/>
<path d="M416.44 306.11h.7M414.58 306.52h.7M415.62 307.23h.7M413.75 304.09h.7M413.75 304.36h.7M415.11 304.63h.7M414.05 304.28h.7M416.76 305.44h.7M413.29 308.8h.7M413.56 305.74h.7M413.75 307.05h.7M415.29 306.67h.7M415.8 304.03h.7M411.76 309.23h.7M414.6 305.93h.7M413.76 306.45h.7M414.73 309.78h.7M414.26 306.07h.7M414.27 303.19h.7M413.51 305.72h.7M412.7 305.26h.7M414.21 306.81h.7M416.02 306.89h.7M417.9 304.08h.7M415.33 308.48h.7M412.25 306.91h.7" stroke="#3a78f0" stroke-width="0.7" stroke-opacity="0.85" fill="none"/>
<path d="M416.63 303.04h.7M410.83 306.41h.7M413.46 305.33h.7M410.67 307.64h.7M415.16 305.81h.7M413.71 305.29h.7M413.33 304.09h.7M413.92 307.06h.7M413.75 305.98h.7M415.27 306.21h.7M414.23 308.09h.7M415.74 302.12h.7M412.99 305.88h.7M415.66 303.71h.7M415.7 308.11h.7M416.3 306.12h.7M413.66 306.14h.7" stroke="#2f8fe8" stroke-width="0.7" stroke-opacity="0.85" fill="none"/>
<path d="M412.4 306.29h.7M413.66 306.09h.7M413.92 307.33h.7M415.49 305.91h.7M415.55 305.7h.7M414.41 307.92h.7M413.28 303.84h.7M414.63 305.94h.7M415.14 307.47h.7M414.87 308.96h.7M413.74 307.21h.7M414.88 307.66h.7M412.2 306.6h.7M414.84 305.29h.7M414.16 305.23h.7M413.9 303.48h.7M412.8 304.71h.7" stroke="#2fb0e4" stroke-width="0.7" stroke-opacity="0.85" fill="none"/>
<path d="M414.79 307.58h.7M414.36 305.52h.7M415.5 306.22h.7M415.05 305.57h.7M414.6 306.4h.7M415.63 306.04h.7M413.96 307.25h.7" stroke="#b8d83a" stroke-width="0.7" stroke-opacity="0.85" fill="none"/>
<path d="M414.81 305.94h.7M414.11 307.15h.7M413.4 304.41h.7M414.9 306.35h.7M413.74 307.07h.7M414.45 306.6h.7" stroke="#35c46a" stroke-width="0.7" stroke-opacity="0.85" fill="none"/>
<path d="M416.17 303.88h.7M413.8 307.78h.7M413.92 306.54h.7M414 305.99h.7M414.25 306.1h.7M414.65 304.53h.7M415.06 307.03h.7" stroke="#2fc9b0" stroke-width="0.7" stroke-opacity="0.85" fill="none"/>
<path d="M415.15 304.49h.7M413.76 304.68h.7M414.87 304.86h.7M414.76 304.16h.7M415.29 305.32h.7M414.77 305.24h.7M413.97 305.89h.7" stroke="#6ad04a" stroke-width="0.7" stroke-opacity="0.85" fill="none"/>
<rect x="405.3" y="286.4" width="19.1" height="14.8" fill="none" stroke="#707070" stroke-width="0.7"/>
<text transform="translate(377.8,291.37) scale(1,1.04)" font-size="6.9" fill="#000">2.61</text>
<rect x="442.5" y="281.5" width="56.2" height="55.7" fill="#fff" stroke="#cdcdcd" stroke-width="0.7"/>
<line x1="442.5" y1="281.5" x2="498.7" y2="281.5" stroke="#c4c4c4" stroke-width="0.7"/>
<line x1="442.5" y1="281.5" x2="442.5" y2="337.2" stroke="#4a4a4a" stroke-width="0.85" stroke-dasharray="0.55 0.8"/>
<line x1="442.5" y1="337.2" x2="498.7" y2="337.2" stroke="#3c3c3c" stroke-width="1" stroke-dasharray="0.55 0.8"/>
<rect x="441.5" y="280.9" width="1.6" height="1.2" fill="#222"/>
<text transform="translate(437.5,283.5) rotate(-32)" font-size="2.5" fill="#5a5a5a">10<tspan font-size="1.8" dy="-0.9">6</tspan></text>
<rect x="441.5" y="290.18" width="1.6" height="1.2" fill="#222"/>
<text transform="translate(437.5,292.78) rotate(-32)" font-size="2.5" fill="#5a5a5a">10<tspan font-size="1.8" dy="-0.9">5</tspan></text>
<rect x="441.5" y="299.47" width="1.6" height="1.2" fill="#222"/>
<text transform="translate(437.5,302.07) rotate(-32)" font-size="2.5" fill="#5a5a5a">10<tspan font-size="1.8" dy="-0.9">4</tspan></text>
<rect x="441.5" y="308.75" width="1.6" height="1.2" fill="#222"/>
<text transform="translate(437.5,311.35) rotate(-32)" font-size="2.5" fill="#5a5a5a">10<tspan font-size="1.8" dy="-0.9">3</tspan></text>
<rect x="441.5" y="318.03" width="1.6" height="1.2" fill="#222"/>
<text transform="translate(437.5,320.63) rotate(-32)" font-size="2.5" fill="#5a5a5a">10<tspan font-size="1.8" dy="-0.9">2</tspan></text>
<rect x="441.5" y="327.32" width="1.6" height="1.2" fill="#222"/>
<text transform="translate(437.5,329.92) rotate(-32)" font-size="2.5" fill="#5a5a5a">10<tspan font-size="1.8" dy="-0.9">1</tspan></text>
<rect x="441.5" y="336.6" width="1.6" height="1.2" fill="#222"/>
<text transform="translate(437.5,339.2) rotate(-32)" font-size="2.5" fill="#5a5a5a">10<tspan font-size="1.8" dy="-0.9">0</tspan></text>
<rect x="441.9" y="336.6" width="1.2" height="1.7" fill="#222"/>
<rect x="452.15" y="336.6" width="1.2" height="1.7" fill="#222"/>
<text transform="translate(449.55,342.4) rotate(-32)" font-size="2.5" fill="#5a5a5a">10<tspan font-size="1.8" dy="-0.9">1</tspan></text>
<rect x="462.4" y="336.6" width="1.2" height="1.7" fill="#222"/>
<text transform="translate(459.8,342.4) rotate(-32)" font-size="2.5" fill="#5a5a5a">10<tspan font-size="1.8" dy="-0.9">2</tspan></text>
<rect x="472.65" y="336.6" width="1.2" height="1.7" fill="#222"/>
<text transform="translate(470.05,342.4) rotate(-32)" font-size="2.5" fill="#5a5a5a">10<tspan font-size="1.8" dy="-0.9">3</tspan></text>
<rect x="482.9" y="336.6" width="1.2" height="1.7" fill="#222"/>
<text transform="translate(480.3,342.4) rotate(-32)" font-size="2.5" fill="#5a5a5a">10<tspan font-size="1.8" dy="-0.9">4</tspan></text>
<rect x="493.15" y="336.6" width="1.2" height="1.7" fill="#222"/>
<text transform="translate(490.55,342.4) rotate(-32)" font-size="2.5" fill="#5a5a5a">10<tspan font-size="1.8" dy="-0.9">5</tspan></text>
<path d="M477.76 307.62h.7M481.76 308.96h.7M479.74 307.36h.7M478.75 304.82h.7M477.29 309.72h.7M478.52 313.41h.7M475.96 310.47h.7M481.92 303.81h.7M481.61 309.98h.7M483.21 305.93h.7M481.2 303.91h.7M482.36 311.28h.7M478.38 304.06h.7M479.12 310.86h.7M481.06 308.94h.7M478.35 314.65h.7M479.97 304.06h.7M481.19 305.2h.7M479.82 310.3h.7M480.85 304.88h.7M481.84 304.22h.7M483.34 306.36h.7M478.3 306.58h.7M485.45 304.46h.7M479.79 303.92h.7M480.46 307.79h.7M484.17 305.17h.7M477.94 306.09h.7M482.14 309.36h.7M479.46 306.31h.7M479.48 306.83h.7M479.59 309.8h.7M477.02 304.23h.7M478.04 305.43h.7M483.19 311.35h.7M482.97 308.3h.7M481.69 305.28h.7M479.11 304.69h.7M483.23 304.47h.7M481.17 309.39h.7M478.64 307.68h.7M479.95 308.14h.7M480.74 306.6h.7M486.69 307.56h.7M480.41 304.52h.7M477.6 305.89h.7M479.24 309.18h.7M483.6 308.66h.7M476.9 312.07h.7M475.59 309.11h.7M482.46 308.56h.7M475.94 323.82h.7M480.19 307.58h.7M480.91 304.91h.7M481.15 305.53h.7M480.09 305.45h.7M480.75 311.44h.7M480.12 305.34h.7M477.8 305.93h.7M479.93 309.91h.7M479.34 305.05h.7M483.59 304.72h.7M481.93 305.52h.7M484.07 306.98h.7M478.1 304.73h.7M479.6 306.48h.7M479.84 303.83h.7M476.9 306.16h.7M481.77 307.68h.7M479.19 304.07h.7M485.34 306.3h.7M481.93 309.65h.7" stroke="#a9aef7" stroke-width="0.7" stroke-opacity="0.55" fill="none"/>
<path d="M479.96 301.66h.7M478.18 295.03h.7M482.13 305.07h.7M477.66 302.08h.7M481.38 302.43h.7M478.03 306h.7M482.95 297.34h.7M475.5 305.4h.7M483.9 300.65h.7M480.57 307.65h.7M477.33 297.83h.7M482.63 305.25h.7M478.86 298.56h.7M479.91 304.63h.7M482.02 306.3h.7M479.44 303.95h.7M477.24 312.05h.7M478.69 304.04h.7M482.77 301.25h.7M481.56 300.08h.7M480.19 303.48h.7M483.61 301.44h.7M480.86 301.73h.7M479.57 307.74h.7M480.81 299.54h.7M483.28 301.18h.7M482.81 315.08h.7M483.06 298.67h.7M480.85 301.41h.7M480.74 302h.7M476.93 306.98h.7M478.91 302.77h.7M487.93 302.5h.7M481.97 301.05h.7M480.23 306.66h.7M481.56 299.82h.7M482.84 298.04h.7M473.45 307.75h.7M484.98 297.87h.7M480.84 306.09h.7M476.86 306.21h.7M478.47 307.46h.7M484.22 298.18h.7M484.2 303.28h.7M477.92 305.98h.7M484.86 306.53h.7M488.61 295.25h.7M478.75 305.1h.7M485.09 300.95h.7M478.69 299.64h.7M478.48 307.3h.7M483.17 294.57h.7M474.07 300.53h.7M484.74 307.53h.7M484.17 308.28h.7M480.27 305.74h.7M484.66 308.42h.7M483.88 303.64h.7M477.75 303.43h.7M482.91 300.87h.7" stroke="#9098f5" stroke-width="0.7" stroke-opacity="0.55" fill="none"/>
<path d="M479.6 307h.7M480 299.56h.7M480.15 303.76h.7M481.09 303.55h.7M479.15 301.9h.7M480.99 305.69h.7M482.21 302.96h.7M479.68 304.13h.7M479.89 303.2h.7M479.28 302.15h.7M482.37 303.96h.7M481.29 302.95h.7M481.01 301.61h.7M479.85 306.58h.7M483.73 303.53h.7M479.57 305.7h.7M478.43 305.17h.7M482.15 302.08h.7M482.02 304.12h.7M482.67 303.24h.7M478.83 304.53h.7M481.46 303.45h.7M478.81 301.26h.7M485.65 299.05h.7M480.4 306.81h.7M482.41 304.44h.7M480.16 301.29h.7M484.07 302.21h.7M477.61 303.85h.7M483.26 299.3h.7M482.77 300.44h.7M478.94 306.55h.7M479.33 301.79h.7M482.35 300.01h.7M479.6 300.97h.7M482.17 300.51h.7M479.71 300.57h.7M481.6 300.78h.7M481.25 304.8h.7M482.5 300.64h.7M480.36 302.4h.7M484.32 304.21h.7M479.79 307.61h.7M482.16 302.04h.7M479.97 301.75h.7M476.29 300.39h.7M483.48 302.43h.7M481.29 302.89h.7M483.43 303.58h.7M480.89 305.03h.7M482.39 297.96h.7M482.34 306.41h.7M481.29 307.82h.7M481 303.09h.7M481.47 302.16h.7M481.71 300.08h.7M482.58 302.82h.7M482.45 302.14h.7M480.07 299.3h.7M480.75 306.21h.7M482.9 305.5h.7M480.62 303.89h.7M481.35 303.83h.7M482.05 303.78h.7M482.45 301.48h.7M478.4 302.36h.7M482.89 302.16h.7M481.82 304.84h.7" stroke="#5a68f2" stroke-width="0.7" stroke-opacity="0.55" fill="none"/>
<rect x="471.2" y="286.4" width="19.6" height="14.8" fill="none" stroke="#707070" stroke-width="0.7"/>
<text transform="translate(444,291.37) scale(1,1.04)" font-size="6.9" fill="#000">29.0</text>
<text transform="translate(403.7,208.2) scale(1,1.04)" font-size="9.4" text-anchor="middle" fill="#000">Control</text>
<text transform="translate(469.4,208.2) scale(1,1.04)" font-size="9.4" text-anchor="middle" fill="#000">NaAc</text>
<text transform="translate(346.2,252) scale(1,1.04)" font-size="9.4" text-anchor="middle" fill="#000">WT</text>
<text transform="translate(344.5,314.2) scale(1,1.04)" font-size="9.4" text-anchor="middle" fill="#000"><tspan font-style="italic">Hif1α</tspan><tspan font-style="italic" font-size="6.2" dy="-2.35">-/-</tspan></text>
<polygon points="364.2,218.7 360.3,225.6 368.1,225.6" fill="#000"/>
<line x1="364.2" y1="225.1" x2="364.2" y2="284" stroke="#3a3a3a" stroke-width="1.3"/>
<text transform="translate(363.9,312.2) rotate(-90) translate(0,3.31) scale(1,1.04)" font-size="8.9" text-anchor="middle" fill="#000">IFN-γ-BV650</text>
<text transform="translate(373.6,354.23) scale(1,1.04)" font-size="8.95" fill="#000">TCRβ-APC-Cy7</text>
<polygon points="497.3,351.1 489.2,347.2 489.2,355" fill="#000"/>
<line x1="440.6" y1="351.1" x2="489.7" y2="351.1" stroke="#3a3a3a" stroke-width="1.3"/>
<text transform="translate(513.6,276) rotate(-90) translate(0,3.41) scale(1,1.04)" font-size="9.17" text-anchor="middle" fill="#000">% of IFN-γ<tspan font-size="6.4" dy="-3.4">+</tspan><tspan dy="3.4"> in CD4</tspan><tspan font-size="6.4" dy="-3.4">+</tspan><tspan dy="3.4"> TILs</tspan></text>
<circle cx="588.9" cy="231.1" r="2.9" fill="#fff" stroke="#0000ff" stroke-width="1"/>
<text transform="translate(601.3,234) scale(1,1.04)" font-size="9.4" fill="#000">WT</text>
<rect x="586.2" y="241.5" width="5.4" height="5.4" fill="#fff" stroke="#ff0000" stroke-width="1"/>
<text transform="translate(601.5,247.4) scale(1,1.04)" font-size="9.4" fill="#000"><tspan font-style="italic">Hif1α</tspan><tspan font-style="italic" font-size="6.2" dy="-2.35">-/-</tspan></text>
<line x1="542.7" y1="275.6" x2="555.3" y2="275.6" stroke="#0000ff" stroke-width="1"/>
<line x1="549" y1="263.6" x2="549" y2="288.3" stroke="#0000ff" stroke-width="1"/>
<line x1="545.5" y1="263.6" x2="552.5" y2="263.6" stroke="#0000ff" stroke-width="1"/>
<line x1="545.5" y1="288.3" x2="552.5" y2="288.3" stroke="#0000ff" stroke-width="1"/>
<circle cx="545.3" cy="250.9" r="2.8" fill="#fff" stroke="#0000ff" stroke-width="1"/>
<circle cx="545.3" cy="258.8" r="2.8" fill="#fff" stroke="#0000ff" stroke-width="1"/>
<circle cx="552.3" cy="256.5" r="2.8" fill="#fff" stroke="#0000ff" stroke-width="1"/>
<circle cx="545.3" cy="307.1" r="2.8" fill="#fff" stroke="#0000ff" stroke-width="1"/>
<circle cx="552.3" cy="305.2" r="2.8" fill="#fff" stroke="#0000ff" stroke-width="1"/>
<line x1="561.5" y1="307.6" x2="574.1" y2="307.6" stroke="#ff0000" stroke-width="1"/>
<line x1="567.8" y1="306.2" x2="567.8" y2="309" stroke="#ff0000" stroke-width="1"/>
<line x1="564.3" y1="306.2" x2="571.3" y2="306.2" stroke="#ff0000" stroke-width="1"/>
<line x1="564.3" y1="309" x2="571.3" y2="309" stroke="#ff0000" stroke-width="1"/>
<rect x="568" y="300.9" width="5.2" height="5.2" fill="#fff" stroke="#ff0000" stroke-width="1"/>
<rect x="561.5" y="306.8" width="5.2" height="5.2" fill="#fff" stroke="#ff0000" stroke-width="1"/>
<rect x="565.2" y="305.9" width="5.2" height="5.2" fill="#fff" stroke="#ff0000" stroke-width="1"/>
<rect x="568" y="305.9" width="5.2" height="5.2" fill="#fff" stroke="#ff0000" stroke-width="1"/>
<line x1="593" y1="285.2" x2="605.6" y2="285.2" stroke="#0000ff" stroke-width="1"/>
<line x1="599.3" y1="279.6" x2="599.3" y2="290.8" stroke="#0000ff" stroke-width="1"/>
<line x1="595.8" y1="279.6" x2="602.8" y2="279.6" stroke="#0000ff" stroke-width="1"/>
<line x1="595.8" y1="290.8" x2="602.8" y2="290.8" stroke="#0000ff" stroke-width="1"/>
<circle cx="599.3" cy="264.4" r="2.8" fill="#fff" stroke="#0000ff" stroke-width="1"/>
<circle cx="599.3" cy="276.2" r="2.8" fill="#fff" stroke="#0000ff" stroke-width="1"/>
<circle cx="595.3" cy="286.9" r="2.8" fill="#fff" stroke="#0000ff" stroke-width="1"/>
<circle cx="602.3" cy="284.6" r="2.8" fill="#fff" stroke="#0000ff" stroke-width="1"/>
<circle cx="598.7" cy="288.9" r="2.8" fill="#fff" stroke="#0000ff" stroke-width="1"/>
<circle cx="602.3" cy="292.2" r="2.8" fill="#fff" stroke="#0000ff" stroke-width="1"/>
<circle cx="599.3" cy="309.4" r="2.8" fill="#fff" stroke="#0000ff" stroke-width="1"/>
<line x1="611.2" y1="295.3" x2="623.8" y2="295.3" stroke="#ff0000" stroke-width="1"/>
<line x1="617.5" y1="289.7" x2="617.5" y2="301" stroke="#ff0000" stroke-width="1"/>
<line x1="614" y1="289.7" x2="621" y2="289.7" stroke="#ff0000" stroke-width="1"/>
<line x1="614" y1="301" x2="621" y2="301" stroke="#ff0000" stroke-width="1"/>
<rect x="614.9" y="274.2" width="5.2" height="5.2" fill="#fff" stroke="#ff0000" stroke-width="1"/>
<rect x="618" y="291.9" width="5.2" height="5.2" fill="#fff" stroke="#ff0000" stroke-width="1"/>
<rect x="611.6" y="292.7" width="5.2" height="5.2" fill="#fff" stroke="#ff0000" stroke-width="1"/>
<rect x="614.9" y="294.7" width="5.2" height="5.2" fill="#fff" stroke="#ff0000" stroke-width="1"/>
<rect x="611.6" y="298.9" width="5.2" height="5.2" fill="#fff" stroke="#ff0000" stroke-width="1"/>
<rect x="618" y="298.9" width="5.2" height="5.2" fill="#fff" stroke="#ff0000" stroke-width="1"/>
<line x1="548" y1="243.9" x2="567.8" y2="243.9" stroke="#1a1a1a" stroke-width="1.2"/>
<text transform="translate(558.7,244.1)" font-size="9.4" text-anchor="middle" fill="#000" letter-spacing="1.4" font-weight="bold" font-family="DejaVu Sans, sans-serif">*</text>
<line x1="535.7" y1="235.43" x2="535.7" y2="312.68" stroke="#1a1a1a" stroke-width="1.35"/>
<line x1="532.5" y1="312" x2="535.7" y2="312" stroke="#1a1a1a" stroke-width="1.35"/>
<text transform="translate(531.1,315.5) scale(1,1.04)" font-size="9.4" text-anchor="end" fill="#000">0</text>
<line x1="532.5" y1="286.7" x2="535.7" y2="286.7" stroke="#1a1a1a" stroke-width="1.35"/>
<text transform="translate(531.1,290.2) scale(1,1.04)" font-size="9.4" text-anchor="end" fill="#000">20</text>
<line x1="532.5" y1="261.4" x2="535.7" y2="261.4" stroke="#1a1a1a" stroke-width="1.35"/>
<text transform="translate(531.1,264.9) scale(1,1.04)" font-size="9.4" text-anchor="end" fill="#000">40</text>
<line x1="532.5" y1="236.1" x2="535.7" y2="236.1" stroke="#1a1a1a" stroke-width="1.35"/>
<text transform="translate(531.1,239.6) scale(1,1.04)" font-size="9.4" text-anchor="end" fill="#000">60</text>
<line x1="535.03" y1="312" x2="631.27" y2="312" stroke="#1a1a1a" stroke-width="1.35"/>
<line x1="558.3" y1="312" x2="558.3" y2="315.2" stroke="#1a1a1a" stroke-width="1.35"/>
<text transform="translate(558.3,324.8) scale(1,1.04)" font-size="9.4" text-anchor="middle" fill="#000" textLength="28.3" lengthAdjust="spacingAndGlyphs">Control</text>
<line x1="608.3" y1="312" x2="608.3" y2="315.2" stroke="#1a1a1a" stroke-width="1.35"/>
<text transform="translate(608.3,324.8) scale(1,1.04)" font-size="9.4" text-anchor="middle" fill="#000" textLength="21.2" lengthAdjust="spacingAndGlyphs">NaAc</text>
</svg>
</body></html>
